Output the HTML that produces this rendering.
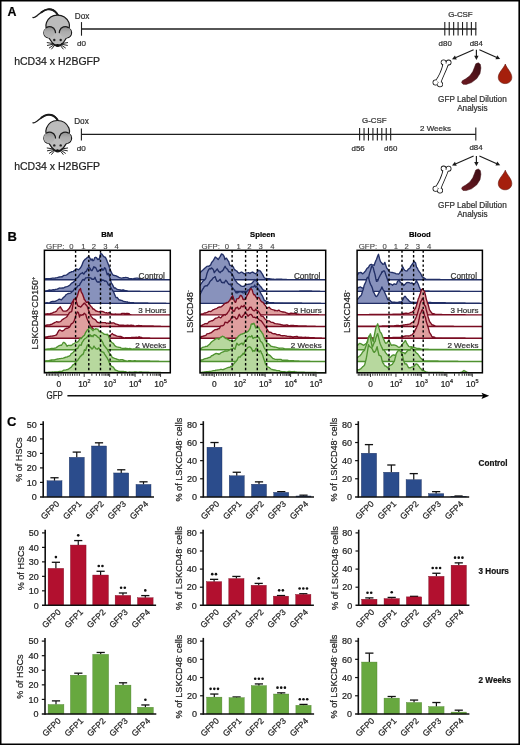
<!DOCTYPE html><html><head><meta charset="utf-8"><style>html,body{margin:0;padding:0;background:#fff;width:520px;height:745px;overflow:hidden}svg{display:block;will-change:transform}text{font-family:"Liberation Sans", sans-serif;stroke:#222;stroke-width:0.22px;paint-order:stroke}</style></head><body><svg width="520" height="745" viewBox="0 0 520 745" font-family='"Liberation Sans", sans-serif'><defs><linearGradient id="earg" x1="0" y1="0" x2="0" y2="1"><stop offset="0" stop-color="#8f8f8f"/><stop offset="0.45" stop-color="#acacac"/><stop offset="1" stop-color="#b8b8b8"/></linearGradient><linearGradient id="spg" gradientUnits="objectBoundingBox" x1="1" y1="0" x2="0" y2="1"><stop offset="0" stop-color="#3c0d14"/><stop offset="1" stop-color="#6e1a22"/></linearGradient></defs><rect x="0" y="0" width="520" height="745" fill="#fff"/><text x="7.4" y="16.1" font-size="12.4" text-anchor="start" font-weight="bold" fill="#000" >A</text>
<g transform="translate(0,0)" stroke-linejoin="round"><path d="M33.0,17.4 C33.6,17.9 35,17.2 37.2,15.6 C40.5,13 43.6,10 47.5,9.4 C51.5,8.8 54.5,10.5 56.6,13.2 L58.2,15.6" fill="none" stroke="#1a1a1a" stroke-width="1.3" stroke-linecap="round"/><path d="M41.5,12.2 C44,10.3 45.6,9.6 47.5,9.4 C51.5,8.8 54.5,10.5 56.6,13.2 L58.2,15.6" fill="none" stroke="#1a1a1a" stroke-width="1.9" stroke-linecap="round"/><path d="M57.4,15.1 C62.5,15.1 66.8,17.8 68.9,22.6 C69.8,24.8 69.6,27 69.2,28.5 C70.5,29.2 71.6,30.8 71.6,32.8 C71.5,35.5 69.3,37.6 66.4,38 C64.9,40.8 62.5,43.8 60.3,45.4 C58.8,46.6 56.6,46.6 55.2,45.4 C52.9,43.8 50.6,40.8 49.0,38 C46.1,37.6 43.9,35.5 43.8,32.8 C43.8,30.8 44.9,29.2 46.2,28.5 C45.8,27 45.6,24.8 46.5,22.6 C48.4,17.8 52.4,15.1 57.4,15.1 Z" fill="#bcbcbc" stroke="#1a1a1a" stroke-width="1.2"/><path d="M46.6,27.2 C49.5,26.2 53.8,27.0 55.3,31.5 C55.2,34.5 52.5,37.6 49.0,38 C46.1,37.6 43.9,35.5 43.8,32.8 C43.8,30.2 45,28.2 46.6,27.2 Z" fill="url(#earg)"/><path d="M68.2,27.2 C65.3,26.2 61,27.0 59.5,31.5 C59.6,34.5 62.3,37.6 65.8,38 C68.7,37.6 70.9,35.5 71.0,32.8 C71.0,30.2 69.8,28.2 68.2,27.2 Z" fill="url(#earg)"/><path d="M46.4,27.6 C49.2,25.8 53.8,26.6 55.2,30.8 L55.5,32.6" fill="none" stroke="#1a1a1a" stroke-width="1.25" stroke-linecap="round"/><path d="M68.4,27.6 C65.6,25.8 61.0,26.6 59.6,30.8 L59.3,32.6" fill="none" stroke="#1a1a1a" stroke-width="1.25" stroke-linecap="round"/><circle cx="54.3" cy="40.0" r="1.2" fill="#222"/><circle cx="60.7" cy="40.0" r="1.2" fill="#222"/><path d="M53.6,43.6 C55.5,44.8 59.5,44.8 61.3,43.6 L60.2,45.6 C59,46.7 56,46.7 54.8,45.6 Z" fill="#151515"/><circle cx="57.45" cy="44.9" r="1.0" fill="#111"/><line x1="53.2" y1="43.6" x2="47.2" y2="42.6" stroke="#1a1a1a" stroke-width="0.95" stroke-linecap="round"/><line x1="53.4" y1="44.2" x2="47.4" y2="45.4" stroke="#1a1a1a" stroke-width="0.95" stroke-linecap="round"/><line x1="53.9" y1="44.8" x2="49.4" y2="47.9" stroke="#1a1a1a" stroke-width="0.95" stroke-linecap="round"/><line x1="54.6" y1="45.3" x2="51.6" y2="49.0" stroke="#1a1a1a" stroke-width="0.95" stroke-linecap="round"/><line x1="61.6" y1="43.6" x2="67.6" y2="42.6" stroke="#1a1a1a" stroke-width="0.95" stroke-linecap="round"/><line x1="61.4" y1="44.2" x2="67.4" y2="45.4" stroke="#1a1a1a" stroke-width="0.95" stroke-linecap="round"/><line x1="60.9" y1="44.8" x2="65.4" y2="47.9" stroke="#1a1a1a" stroke-width="0.95" stroke-linecap="round"/><line x1="60.2" y1="45.3" x2="63.2" y2="49.0" stroke="#1a1a1a" stroke-width="0.95" stroke-linecap="round"/></g>
<text x="14.2" y="64.8" font-size="10.5" text-anchor="start" font-weight="normal" fill="#222" >hCD34 x H2BGFP</text>
<text x="74.8" y="18.7" font-size="8.2" text-anchor="start" font-weight="normal" fill="#333" >Dox</text>
<text x="81.4" y="45.9" font-size="8.1" text-anchor="middle" font-weight="normal" fill="#333" >d0</text>
<line x1="81.5" y1="22.1" x2="81.5" y2="35.7" stroke="#1e1e1e" stroke-width="1.1" />
<line x1="81.5" y1="29.0" x2="476.3" y2="29.0" stroke="#1e1e1e" stroke-width="1.4" />
<line x1="444.8" y1="22.0" x2="444.8" y2="35.4" stroke="#1e1e1e" stroke-width="1.1" />
<line x1="449.23" y1="22.0" x2="449.23" y2="35.4" stroke="#1e1e1e" stroke-width="1.1" />
<line x1="453.66" y1="22.0" x2="453.66" y2="35.4" stroke="#1e1e1e" stroke-width="1.1" />
<line x1="458.09000000000003" y1="22.0" x2="458.09000000000003" y2="35.4" stroke="#1e1e1e" stroke-width="1.1" />
<line x1="462.52" y1="22.0" x2="462.52" y2="35.4" stroke="#1e1e1e" stroke-width="1.1" />
<line x1="466.95" y1="22.0" x2="466.95" y2="35.4" stroke="#1e1e1e" stroke-width="1.1" />
<line x1="471.38" y1="22.0" x2="471.38" y2="35.4" stroke="#1e1e1e" stroke-width="1.1" />
<line x1="475.81" y1="22.0" x2="475.81" y2="35.4" stroke="#1e1e1e" stroke-width="1.1" />
<text x="460.4" y="16.7" font-size="7.9" text-anchor="middle" font-weight="normal" fill="#333" >G-CSF</text>
<text x="445.2" y="45.6" font-size="7.9" text-anchor="middle" font-weight="normal" fill="#333" >d80</text>
<text x="476.3" y="45.6" font-size="7.9" text-anchor="middle" font-weight="normal" fill="#333" >d84</text>
<line x1="473.6" y1="49.8" x2="455.38689678677866" y2="57.81039261692605" stroke="#1a1a1a" stroke-width="1.15" />
<path d="M452.00,59.30 L454.96,55.60 L456.73,59.62 Z" fill="#1a1a1a"/>
<line x1="476.4" y1="49.8" x2="476.4" y2="56.3" stroke="#1a1a1a" stroke-width="1.15" />
<path d="M476.40,60.00 L474.20,55.80 L478.60,55.80 Z" fill="#1a1a1a"/>
<line x1="479.4" y1="49.8" x2="496.8162192502943" y2="57.5033277453225" stroke="#1a1a1a" stroke-width="1.15" />
<path d="M500.20,59.00 L495.47,59.31 L497.25,55.29 Z" fill="#1a1a1a"/>
<g fill="#111" stroke="#111" stroke-width="1.6" stroke-linejoin="round"><path d="M443.6,63.0 C442.8,67.5 441.6,70.5 440.2,73.5 C438.8,76.5 437.4,78.6 436.2,80.6 L440.2,83.4 C441.2,80.5 442.4,77.5 443.8,74.5 C445.3,71.2 446.8,67.5 448.3,63.6 Z"/><circle cx="443.6" cy="62.3" r="2.1"/><circle cx="448.6" cy="62.5" r="2.1"/><circle cx="435.6" cy="82.5" r="2.25"/><circle cx="440.0" cy="84.3" r="2.25"/></g><g fill="#fff"><path d="M443.6,63.0 C442.8,67.5 441.6,70.5 440.2,73.5 C438.8,76.5 437.4,78.6 436.2,80.6 L440.2,83.4 C441.2,80.5 442.4,77.5 443.8,74.5 C445.3,71.2 446.8,67.5 448.3,63.6 Z"/><circle cx="443.6" cy="62.3" r="2.1"/><circle cx="448.6" cy="62.5" r="2.1"/><circle cx="435.6" cy="82.5" r="2.25"/><circle cx="440.0" cy="84.3" r="2.25"/></g>
<path d="M478.3,62.8 L480.3,64.3 L480.9,68 L480.0,73.5 L476.8,78.6 L471.5,82.6 L466.2,84.4 L463.0,84.2 L461.6,82.6 L462.3,80.8 L465.8,78.8 L469.8,75.8 L472.8,71.6 L474.6,67.0 L475.8,63.8 Z" fill="url(#spg)" stroke="#3a0c12" stroke-width="0.5" stroke-linejoin="round"/>
<path d="M505.3,64.0 C506.8,68.5 511.8,72.5 511.8,77.3 C511.8,81 509,83.6 505.1,83.6 C501.2,83.6 498.3,81 498.3,77.3 C498.3,72.5 503.6,68.5 505.3,64.0 Z" fill="#a51f0c" stroke="#5e1208" stroke-width="0.6"/>
<text x="472.4" y="102" font-size="8.2" text-anchor="middle" font-weight="normal" fill="#333" >GFP Label Dilution</text>
<text x="472.4" y="111" font-size="8.2" text-anchor="middle" font-weight="normal" fill="#333" >Analysis</text>
<g transform="translate(0,105.4)" stroke-linejoin="round"><path d="M33.0,17.4 C33.6,17.9 35,17.2 37.2,15.6 C40.5,13 43.6,10 47.5,9.4 C51.5,8.8 54.5,10.5 56.6,13.2 L58.2,15.6" fill="none" stroke="#1a1a1a" stroke-width="1.3" stroke-linecap="round"/><path d="M41.5,12.2 C44,10.3 45.6,9.6 47.5,9.4 C51.5,8.8 54.5,10.5 56.6,13.2 L58.2,15.6" fill="none" stroke="#1a1a1a" stroke-width="1.9" stroke-linecap="round"/><path d="M57.4,15.1 C62.5,15.1 66.8,17.8 68.9,22.6 C69.8,24.8 69.6,27 69.2,28.5 C70.5,29.2 71.6,30.8 71.6,32.8 C71.5,35.5 69.3,37.6 66.4,38 C64.9,40.8 62.5,43.8 60.3,45.4 C58.8,46.6 56.6,46.6 55.2,45.4 C52.9,43.8 50.6,40.8 49.0,38 C46.1,37.6 43.9,35.5 43.8,32.8 C43.8,30.8 44.9,29.2 46.2,28.5 C45.8,27 45.6,24.8 46.5,22.6 C48.4,17.8 52.4,15.1 57.4,15.1 Z" fill="#bcbcbc" stroke="#1a1a1a" stroke-width="1.2"/><path d="M46.6,27.2 C49.5,26.2 53.8,27.0 55.3,31.5 C55.2,34.5 52.5,37.6 49.0,38 C46.1,37.6 43.9,35.5 43.8,32.8 C43.8,30.2 45,28.2 46.6,27.2 Z" fill="url(#earg)"/><path d="M68.2,27.2 C65.3,26.2 61,27.0 59.5,31.5 C59.6,34.5 62.3,37.6 65.8,38 C68.7,37.6 70.9,35.5 71.0,32.8 C71.0,30.2 69.8,28.2 68.2,27.2 Z" fill="url(#earg)"/><path d="M46.4,27.6 C49.2,25.8 53.8,26.6 55.2,30.8 L55.5,32.6" fill="none" stroke="#1a1a1a" stroke-width="1.25" stroke-linecap="round"/><path d="M68.4,27.6 C65.6,25.8 61.0,26.6 59.6,30.8 L59.3,32.6" fill="none" stroke="#1a1a1a" stroke-width="1.25" stroke-linecap="round"/><circle cx="54.3" cy="40.0" r="1.2" fill="#222"/><circle cx="60.7" cy="40.0" r="1.2" fill="#222"/><path d="M53.6,43.6 C55.5,44.8 59.5,44.8 61.3,43.6 L60.2,45.6 C59,46.7 56,46.7 54.8,45.6 Z" fill="#151515"/><circle cx="57.45" cy="44.9" r="1.0" fill="#111"/><line x1="53.2" y1="43.6" x2="47.2" y2="42.6" stroke="#1a1a1a" stroke-width="0.95" stroke-linecap="round"/><line x1="53.4" y1="44.2" x2="47.4" y2="45.4" stroke="#1a1a1a" stroke-width="0.95" stroke-linecap="round"/><line x1="53.9" y1="44.8" x2="49.4" y2="47.9" stroke="#1a1a1a" stroke-width="0.95" stroke-linecap="round"/><line x1="54.6" y1="45.3" x2="51.6" y2="49.0" stroke="#1a1a1a" stroke-width="0.95" stroke-linecap="round"/><line x1="61.6" y1="43.6" x2="67.6" y2="42.6" stroke="#1a1a1a" stroke-width="0.95" stroke-linecap="round"/><line x1="61.4" y1="44.2" x2="67.4" y2="45.4" stroke="#1a1a1a" stroke-width="0.95" stroke-linecap="round"/><line x1="60.9" y1="44.8" x2="65.4" y2="47.9" stroke="#1a1a1a" stroke-width="0.95" stroke-linecap="round"/><line x1="60.2" y1="45.3" x2="63.2" y2="49.0" stroke="#1a1a1a" stroke-width="0.95" stroke-linecap="round"/></g>
<text x="14.2" y="170.4" font-size="10.5" text-anchor="start" font-weight="normal" fill="#222" >hCD34 x H2BGFP</text>
<text x="74.2" y="124.2" font-size="8.2" text-anchor="start" font-weight="normal" fill="#333" >Dox</text>
<text x="81.2" y="151.1" font-size="8.1" text-anchor="middle" font-weight="normal" fill="#333" >d0</text>
<line x1="81.4" y1="128.6" x2="81.4" y2="140.6" stroke="#1e1e1e" stroke-width="1.1" />
<line x1="81.4" y1="134.4" x2="475.8" y2="134.4" stroke="#1e1e1e" stroke-width="1.4" />
<line x1="359.6" y1="127.9" x2="359.6" y2="140.6" stroke="#1e1e1e" stroke-width="1.1" />
<line x1="364.04" y1="127.9" x2="364.04" y2="140.6" stroke="#1e1e1e" stroke-width="1.1" />
<line x1="368.48" y1="127.9" x2="368.48" y2="140.6" stroke="#1e1e1e" stroke-width="1.1" />
<line x1="372.92" y1="127.9" x2="372.92" y2="140.6" stroke="#1e1e1e" stroke-width="1.1" />
<line x1="377.36" y1="127.9" x2="377.36" y2="140.6" stroke="#1e1e1e" stroke-width="1.1" />
<line x1="381.8" y1="127.9" x2="381.8" y2="140.6" stroke="#1e1e1e" stroke-width="1.1" />
<line x1="386.24" y1="127.9" x2="386.24" y2="140.6" stroke="#1e1e1e" stroke-width="1.1" />
<line x1="390.68" y1="127.9" x2="390.68" y2="140.6" stroke="#1e1e1e" stroke-width="1.1" />
<text x="374.3" y="122.6" font-size="7.9" text-anchor="middle" font-weight="normal" fill="#333" >G-CSF</text>
<text x="358.1" y="150.6" font-size="7.9" text-anchor="middle" font-weight="normal" fill="#333" >d56</text>
<text x="390.7" y="150.6" font-size="7.9" text-anchor="middle" font-weight="normal" fill="#333" >d60</text>
<text x="435.5" y="131.0" font-size="8.0" text-anchor="middle" font-weight="normal" fill="#333" >2 Weeks</text>
<line x1="475.8" y1="127.6" x2="475.8" y2="140.5" stroke="#1e1e1e" stroke-width="1.1" />
<text x="476.0" y="150.4" font-size="7.9" text-anchor="middle" font-weight="normal" fill="#333" >d84</text>
<line x1="473.6" y1="156.0" x2="455.38689678677866" y2="164.01039261692605" stroke="#1a1a1a" stroke-width="1.15" />
<path d="M452.00,165.50 L454.96,161.80 L456.73,165.82 Z" fill="#1a1a1a"/>
<line x1="476.4" y1="156.0" x2="476.4" y2="162.5" stroke="#1a1a1a" stroke-width="1.15" />
<path d="M476.40,166.20 L474.20,162.00 L478.60,162.00 Z" fill="#1a1a1a"/>
<line x1="479.4" y1="156.0" x2="496.8162192502943" y2="163.7033277453225" stroke="#1a1a1a" stroke-width="1.15" />
<path d="M500.20,165.20 L495.47,165.51 L497.25,161.49 Z" fill="#1a1a1a"/>
<g fill="#111" stroke="#111" stroke-width="1.6" stroke-linejoin="round"><path d="M443.6,169.2 C442.8,173.7 441.6,176.7 440.2,179.7 C438.8,182.7 437.4,184.8 436.2,186.8 L440.2,189.60000000000002 C441.2,186.7 442.4,183.7 443.8,180.7 C445.3,177.4 446.8,173.7 448.3,169.8 Z"/><circle cx="443.6" cy="168.5" r="2.1"/><circle cx="448.6" cy="168.7" r="2.1"/><circle cx="435.6" cy="188.7" r="2.25"/><circle cx="440.0" cy="190.5" r="2.25"/></g><g fill="#fff"><path d="M443.6,169.2 C442.8,173.7 441.6,176.7 440.2,179.7 C438.8,182.7 437.4,184.8 436.2,186.8 L440.2,189.60000000000002 C441.2,186.7 442.4,183.7 443.8,180.7 C445.3,177.4 446.8,173.7 448.3,169.8 Z"/><circle cx="443.6" cy="168.5" r="2.1"/><circle cx="448.6" cy="168.7" r="2.1"/><circle cx="435.6" cy="188.7" r="2.25"/><circle cx="440.0" cy="190.5" r="2.25"/></g>
<path d="M478.3,169.0 L480.3,170.5 L480.9,174.2 L480.0,179.7 L476.8,184.8 L471.5,188.8 L466.2,190.60000000000002 L463.0,190.4 L461.6,188.8 L462.3,187.0 L465.8,185.0 L469.8,182.0 L472.8,177.8 L474.6,173.2 L475.8,170.0 Z" fill="url(#spg)" stroke="#3a0c12" stroke-width="0.5" stroke-linejoin="round"/>
<path d="M505.3,170.2 C506.8,174.7 511.8,178.7 511.8,183.5 C511.8,187.2 509,189.8 505.1,189.8 C501.2,189.8 498.3,187.2 498.3,183.5 C498.3,178.7 503.6,174.7 505.3,170.2 Z" fill="#a51f0c" stroke="#5e1208" stroke-width="0.6"/>
<text x="472.4" y="208.2" font-size="8.2" text-anchor="middle" font-weight="normal" fill="#333" >GFP Label Dilution</text>
<text x="472.4" y="217.2" font-size="8.2" text-anchor="middle" font-weight="normal" fill="#333" >Analysis</text>
<text x="7.4" y="240.5" font-size="13" text-anchor="start" font-weight="bold" fill="#000" >B</text>
<clipPath id="clip44"><rect x="44.4" y="250.3" width="125.9" height="122.5"/></clipPath>
<g clip-path="url(#clip44)"><path d="M43.4,279.7 L43.4,279.1 L44.3,279.0 L45.2,278.9 L46.1,278.7 L47.0,278.6 L47.9,278.6 L48.8,278.7 L49.7,278.6 L50.6,278.5 L51.5,278.3 L52.4,278.2 L53.3,278.1 L54.2,278.1 L54.5,278.1 L55.1,278.0 L56.0,277.8 L56.9,277.7 L57.8,277.5 L58.7,277.2 L59.6,277.0 L60.5,276.8 L61.4,276.7 L62.2,276.8 L62.3,276.7 L63.2,275.8 L64.1,275.4 L65.0,275.3 L65.9,275.1 L66.8,274.8 L67.7,274.1 L68.0,273.9 L68.6,273.5 L69.5,272.6 L70.4,272.3 L71.3,272.0 L71.8,271.6 L72.2,271.6 L73.1,271.7 L74.0,270.7 L74.7,270.4 L74.9,270.2 L75.8,269.0 L76.7,269.0 L77.6,269.3 L78.5,269.7 L78.6,269.7 L79.4,269.0 L80.3,268.0 L81.2,266.7 L81.5,266.2 L82.1,264.7 L83.0,262.3 L83.4,261.4 L83.9,260.7 L84.8,259.6 L85.7,258.9 L86.3,258.5 L86.6,258.2 L87.5,257.1 L88.4,257.2 L89.2,256.9 L89.3,257.0 L90.2,258.7 L91.1,260.2 L92.0,258.9 L92.9,260.8 L93.8,260.2 L94.7,257.7 L95.0,257.6 L95.6,257.3 L96.5,257.7 L97.4,259.1 L97.8,259.5 L98.3,259.0 L99.2,259.6 L100.1,255.5 L100.7,253.1 L101.0,253.5 L101.9,254.1 L102.8,255.3 L103.6,256.6 L103.7,256.7 L104.6,256.9 L105.5,257.6 L106.4,259.4 L106.5,259.5 L107.3,261.7 L108.2,264.0 L109.1,266.6 L109.3,267.2 L110.0,268.8 L110.9,271.4 L111.8,273.2 L112.2,273.9 L112.7,274.5 L113.6,275.4 L114.5,275.5 L115.4,275.6 L116.0,275.8 L116.3,276.0 L117.2,276.3 L118.1,276.8 L119.0,277.3 L119.9,277.7 L120.0,277.7 L120.8,277.9 L121.7,278.1 L122.6,277.9 L123.5,277.7 L124.4,277.7 L125.3,277.5 L125.7,277.4 L126.2,277.5 L127.1,277.6 L128.0,277.9 L128.9,278.4 L129.8,278.7 L130.7,278.7 L131.5,278.7 L131.6,278.7 L132.5,278.8 L133.4,278.7 L134.3,278.5 L135.2,278.3 L136.1,278.1 L137.0,278.1 L137.2,278.1 L137.9,278.1 L138.8,278.3 L139.7,278.6 L140.6,279.0 L141.5,279.0 L142.4,279.2 L143.0,279.3 L143.3,279.3 L144.2,279.3 L145.1,279.3 L146.0,279.3 L146.9,279.4 L147.8,279.4 L148.7,279.4 L149.6,279.4 L150.5,279.4 L151.4,279.4 L152.3,279.4 L153.2,279.4 L154.1,279.5 L155.0,279.5 L155.9,279.5 L156.8,279.5 L157.7,279.5 L158.6,279.5 L159.5,279.5 L160.4,279.5 L161.3,279.6 L162.2,279.6 L163.1,279.6 L164.0,279.6 L164.9,279.6 L165.8,279.6 L166.7,279.6 L167.6,279.7 L168.5,279.7 L169.4,279.7 L170.3,279.7 L171.0,279.7 L171.2,279.7 L171.3,279.7 Z" fill="#8892bc" stroke="#222f66" stroke-width="1.35" stroke-linejoin="round"/><path d="M43.4,291.4 L43.4,291.2 L44.3,291.0 L45.2,290.9 L46.1,290.8 L47.0,290.7 L47.9,290.6 L48.8,290.1 L49.7,290.0 L50.6,290.1 L51.5,290.1 L52.4,289.8 L53.3,289.6 L54.2,289.8 L54.5,289.8 L55.1,289.5 L56.0,289.3 L56.9,289.2 L57.8,289.0 L58.7,288.4 L59.6,288.0 L60.5,288.1 L61.4,288.2 L62.2,287.9 L62.3,287.9 L63.2,288.0 L64.1,287.7 L65.0,287.2 L65.9,286.8 L66.8,286.6 L67.7,286.3 L68.6,285.9 L69.5,285.3 L70.0,285.0 L70.4,284.6 L71.3,283.3 L72.2,282.8 L73.1,282.4 L74.0,281.5 L74.7,281.2 L74.9,280.7 L75.8,278.4 L76.7,278.1 L77.6,277.7 L78.5,276.5 L78.6,276.4 L79.4,274.9 L80.3,274.0 L81.2,273.4 L82.1,273.0 L82.4,272.5 L83.0,273.4 L83.9,274.1 L84.8,272.5 L85.7,271.4 L86.3,271.5 L86.6,270.9 L87.5,268.9 L88.4,267.8 L89.2,267.7 L89.3,267.6 L90.2,268.4 L91.1,270.6 L92.0,270.6 L92.9,268.9 L93.8,266.7 L94.7,267.4 L95.0,267.7 L95.6,267.5 L96.5,269.3 L97.4,271.4 L97.8,271.5 L98.3,271.4 L99.2,270.3 L100.1,270.0 L100.7,270.6 L101.0,269.8 L101.9,268.5 L102.8,270.2 L103.7,269.8 L104.5,267.7 L104.6,267.9 L105.5,268.4 L106.4,271.7 L107.3,274.7 L108.2,273.5 L108.4,273.5 L109.1,275.8 L110.0,277.9 L110.9,281.3 L111.3,283.1 L111.8,283.5 L112.7,285.1 L113.6,286.9 L114.2,287.9 L114.5,288.0 L115.4,287.9 L116.3,288.7 L117.2,289.4 L118.1,289.6 L119.0,289.7 L119.9,289.8 L120.0,289.8 L120.8,290.0 L121.7,290.1 L122.6,290.0 L123.5,290.0 L124.4,290.3 L125.3,290.6 L126.2,290.7 L127.1,290.8 L128.0,291.0 L128.9,291.1 L129.5,291.2 L129.8,291.2 L130.7,291.2 L131.6,291.2 L132.5,291.2 L133.4,291.2 L134.3,291.2 L135.2,291.2 L136.1,291.2 L137.0,291.2 L137.9,291.2 L138.8,291.2 L139.7,291.2 L140.6,291.3 L141.5,291.3 L142.4,291.3 L143.3,291.3 L144.2,291.3 L145.1,291.3 L146.0,291.3 L146.9,291.3 L147.8,291.3 L148.7,291.3 L149.6,291.3 L150.5,291.3 L151.4,291.3 L152.3,291.3 L153.2,291.3 L154.1,291.3 L155.0,291.3 L155.9,291.3 L156.8,291.3 L157.7,291.3 L158.6,291.3 L159.5,291.3 L160.4,291.3 L161.3,291.4 L162.2,291.4 L163.1,291.4 L164.0,291.4 L164.9,291.4 L165.8,291.4 L166.7,291.4 L167.6,291.4 L168.5,291.4 L169.4,291.4 L170.3,291.4 L171.0,291.4 L171.2,291.4 L171.3,291.4 Z" fill="#8892bc" stroke="#222f66" stroke-width="1.35" stroke-linejoin="round"/><path d="M43.4,303.3 L43.4,303.2 L44.3,303.1 L45.2,302.9 L46.1,302.8 L47.0,302.6 L47.9,302.9 L48.8,302.8 L49.7,302.6 L50.6,302.1 L51.5,301.6 L52.4,301.5 L53.3,301.5 L54.2,301.5 L54.5,301.4 L55.1,301.3 L56.0,301.0 L56.9,300.5 L57.8,300.0 L58.7,299.4 L59.6,299.1 L60.5,299.5 L61.4,299.8 L62.2,298.9 L62.3,298.8 L63.2,297.7 L64.1,296.9 L65.0,296.2 L65.9,294.9 L66.0,294.7 L66.8,294.3 L67.7,293.7 L68.6,293.5 L69.5,293.3 L70.4,293.2 L71.3,292.5 L71.8,291.8 L72.2,291.7 L73.1,290.9 L74.0,289.6 L74.9,288.3 L75.8,287.7 L76.6,287.9 L76.7,287.7 L77.6,286.2 L78.5,285.7 L79.4,285.4 L80.3,283.4 L80.5,283.1 L81.2,282.1 L82.1,280.5 L83.0,279.4 L83.9,279.9 L84.3,280.2 L84.8,279.2 L85.7,277.9 L86.6,277.8 L87.5,277.7 L88.2,277.3 L88.4,277.4 L89.3,277.6 L90.2,277.8 L91.1,278.2 L92.0,279.3 L92.9,279.1 L93.8,279.3 L94.7,277.9 L95.0,277.3 L95.6,279.0 L96.5,281.0 L97.4,282.1 L98.3,281.9 L98.8,282.2 L99.2,281.8 L100.1,282.0 L101.0,281.6 L101.7,279.3 L101.9,279.8 L102.8,280.4 L103.7,280.0 L104.5,281.2 L104.6,281.2 L105.5,280.9 L106.4,281.4 L107.3,282.4 L108.2,284.5 L108.4,285.0 L109.1,284.9 L110.0,285.9 L110.9,287.7 L111.8,289.2 L112.2,289.8 L112.7,290.6 L113.6,292.0 L114.5,294.2 L115.4,296.3 L116.0,297.5 L116.3,297.6 L117.2,297.5 L118.1,298.6 L119.0,299.8 L119.9,300.0 L120.0,300.0 L120.8,300.3 L121.7,300.4 L122.6,300.9 L123.5,301.3 L124.4,301.5 L125.3,301.6 L126.2,301.8 L127.1,301.9 L127.6,302.0 L128.0,302.1 L128.9,302.3 L129.8,302.5 L130.7,302.6 L131.6,302.6 L132.5,302.6 L133.4,302.7 L134.3,302.8 L135.2,302.9 L135.3,302.9 L136.1,302.9 L137.0,302.9 L137.9,302.9 L138.8,302.9 L139.7,302.9 L140.6,303.0 L141.5,303.0 L142.4,303.0 L143.3,303.0 L144.2,303.0 L145.1,303.0 L146.0,303.0 L146.9,303.0 L147.8,303.0 L148.7,303.1 L149.6,303.1 L150.5,303.1 L151.4,303.1 L152.3,303.1 L153.2,303.1 L154.1,303.1 L155.0,303.1 L155.9,303.1 L156.8,303.1 L157.7,303.2 L158.6,303.2 L159.5,303.2 L160.4,303.2 L161.3,303.2 L162.2,303.2 L163.1,303.2 L164.0,303.2 L164.9,303.2 L165.8,303.2 L166.7,303.3 L167.6,303.3 L168.5,303.3 L169.4,303.3 L170.3,303.3 L171.0,303.3 L171.2,303.3 L171.3,303.3 Z" fill="#8892bc" stroke="#222f66" stroke-width="1.35" stroke-linejoin="round"/><path d="M43.4,314.9 L43.4,314.4 L44.3,314.3 L45.2,314.2 L46.1,313.9 L47.0,313.8 L47.9,313.7 L48.8,313.8 L49.7,313.8 L50.6,313.4 L50.7,313.4 L51.5,313.3 L52.4,313.0 L53.3,312.5 L54.2,312.2 L55.1,311.9 L56.0,311.3 L56.5,311.1 L56.9,310.5 L57.8,309.0 L58.7,308.2 L59.6,307.5 L60.3,306.8 L60.5,307.1 L61.4,308.6 L62.3,310.0 L63.2,311.1 L64.1,311.2 L65.0,311.1 L65.9,311.0 L66.8,310.8 L67.0,310.7 L67.7,310.0 L68.6,309.1 L69.5,308.0 L70.4,306.1 L70.9,305.3 L71.3,304.4 L72.2,302.3 L73.1,300.8 L73.8,299.5 L74.0,299.5 L74.9,300.5 L75.8,299.9 L76.7,297.6 L77.6,295.2 L78.5,292.1 L78.6,291.8 L79.4,289.8 L80.3,288.9 L80.5,288.4 L81.2,291.8 L82.1,293.3 L82.4,293.8 L83.0,295.5 L83.9,298.0 L84.3,299.5 L84.8,299.9 L85.7,301.3 L86.3,302.4 L86.6,302.3 L87.5,302.4 L88.2,301.5 L88.4,302.0 L89.3,304.0 L90.1,305.3 L90.2,305.4 L91.1,306.5 L92.0,307.3 L92.9,308.9 L93.0,309.1 L93.8,308.9 L94.7,309.8 L95.6,310.8 L96.5,311.0 L96.8,311.1 L97.4,311.3 L98.3,311.6 L99.2,311.8 L100.1,311.3 L100.7,311.1 L101.0,311.2 L101.9,311.3 L102.8,311.6 L103.7,311.9 L104.6,312.5 L105.5,312.9 L106.4,312.6 L106.5,312.6 L107.3,313.1 L108.2,313.0 L109.1,312.7 L110.0,313.0 L110.9,313.5 L111.8,313.9 L112.2,314.0 L112.7,314.1 L113.6,314.2 L114.5,314.1 L115.4,314.0 L116.3,314.1 L117.2,314.1 L118.1,314.2 L119.0,314.2 L119.9,314.2 L120.0,314.2 L120.8,314.1 L121.7,313.5 L122.6,313.4 L123.5,313.4 L124.4,313.5 L125.3,313.7 L126.2,313.5 L127.1,313.4 L127.6,313.5 L128.0,313.5 L128.9,313.6 L129.8,314.3 L130.7,314.6 L131.5,314.9 L131.6,314.9 L132.5,314.9 L133.4,314.9 L134.3,314.9 L135.2,314.9 L136.1,314.9 L137.0,314.9 L137.9,314.9 L138.8,314.9 L139.7,314.9 L140.6,314.9 L141.5,314.9 L142.4,314.9 L143.3,314.9 L144.2,314.9 L145.1,314.9 L146.0,314.9 L146.9,314.9 L147.8,314.9 L148.7,314.9 L149.6,314.9 L150.5,314.9 L151.4,314.9 L152.3,314.9 L153.2,314.9 L154.1,314.9 L155.0,314.9 L155.9,314.9 L156.8,314.9 L157.7,314.9 L158.6,314.9 L159.5,314.9 L160.4,314.9 L161.3,314.9 L162.2,314.9 L163.1,314.9 L164.0,314.9 L164.9,314.9 L165.8,314.9 L166.7,314.9 L167.6,314.9 L168.5,314.9 L169.4,314.9 L170.3,314.9 L171.0,314.9 L171.2,314.9 L171.3,314.9 Z" fill="#df9f9f" stroke="#7a0c22" stroke-width="1.35" stroke-linejoin="round"/><path d="M43.4,326.5 L43.4,326.0 L44.3,325.8 L45.2,325.5 L46.1,325.3 L47.0,325.0 L47.9,324.9 L48.8,324.8 L49.7,324.8 L50.6,324.5 L50.7,324.5 L51.5,324.3 L52.4,323.9 L53.3,323.3 L54.2,322.8 L55.1,322.4 L56.0,322.0 L56.5,321.6 L56.9,321.7 L57.8,322.1 L58.7,322.0 L59.6,321.9 L60.5,321.5 L61.4,320.7 L62.2,319.7 L62.3,319.7 L63.2,319.1 L64.1,318.5 L65.0,318.0 L65.9,317.5 L66.8,316.8 L67.7,315.3 L68.0,314.9 L68.6,314.2 L69.5,312.4 L70.4,312.1 L71.3,311.7 L71.8,311.1 L72.2,309.0 L73.1,304.1 L73.8,299.5 L74.0,299.5 L74.9,298.8 L75.7,298.6 L75.8,298.9 L76.7,302.8 L77.6,305.3 L78.5,306.4 L79.4,306.3 L80.3,307.0 L80.5,307.1 L81.2,306.7 L82.1,305.5 L82.4,305.0 L83.0,304.5 L83.9,303.5 L84.3,303.1 L84.8,303.6 L85.7,304.5 L86.6,305.7 L87.2,306.1 L87.5,307.2 L88.4,309.9 L89.3,312.1 L90.1,314.8 L90.2,314.9 L91.1,316.4 L92.0,317.4 L92.9,318.5 L93.0,318.7 L93.8,318.9 L94.7,319.3 L95.6,320.0 L96.5,321.2 L97.4,322.3 L98.3,322.5 L98.8,322.6 L99.2,322.8 L100.1,322.8 L101.0,322.6 L101.9,322.5 L102.8,322.6 L103.7,322.7 L104.6,322.6 L105.5,322.6 L106.4,323.4 L106.5,323.5 L107.3,323.1 L108.2,323.2 L109.1,323.5 L110.0,323.3 L110.9,322.8 L111.8,323.0 L112.0,323.1 L112.7,322.8 L113.6,322.8 L114.5,323.4 L115.4,324.0 L116.3,324.2 L117.2,324.4 L118.1,324.7 L119.0,325.1 L119.9,325.2 L120.0,325.2 L120.8,325.2 L121.7,325.1 L122.6,325.2 L123.5,325.2 L124.4,325.3 L125.3,325.5 L126.2,325.3 L127.1,325.2 L128.0,325.2 L128.9,325.3 L129.8,325.3 L130.7,325.2 L131.6,325.1 L132.5,325.3 L133.4,325.4 L134.3,325.8 L135.2,326.1 L136.1,325.9 L137.0,325.7 L137.9,325.6 L138.8,325.5 L139.7,325.7 L140.6,325.7 L141.5,325.7 L142.4,325.8 L143.3,325.8 L144.2,325.8 L145.1,325.8 L146.0,325.9 L146.9,325.9 L147.8,325.9 L148.7,325.9 L149.6,326.0 L150.5,326.0 L151.4,326.0 L152.3,326.0 L153.2,326.0 L154.1,326.1 L155.0,326.1 L155.9,326.1 L156.8,326.1 L157.7,326.2 L158.6,326.2 L159.5,326.2 L160.4,326.2 L161.3,326.3 L162.2,326.3 L163.1,326.3 L164.0,326.3 L164.9,326.3 L165.8,326.4 L166.7,326.4 L167.6,326.4 L168.5,326.4 L169.4,326.5 L170.3,326.5 L171.0,326.5 L171.2,326.5 L171.3,326.5 Z" fill="#df9f9f" stroke="#7a0c22" stroke-width="1.35" stroke-linejoin="round"/><path d="M43.4,338.2 L43.4,337.7 L44.3,337.5 L45.2,337.2 L46.1,337.0 L47.0,336.8 L47.9,336.6 L48.8,336.4 L49.7,336.3 L50.6,336.2 L50.7,336.2 L51.5,336.1 L52.4,336.0 L53.3,335.8 L54.2,335.6 L55.1,335.4 L56.0,335.0 L56.5,334.9 L56.9,334.2 L57.8,332.3 L58.7,330.8 L59.3,330.1 L59.6,330.0 L60.5,330.2 L61.4,330.8 L62.2,331.0 L62.3,331.0 L63.2,330.7 L64.1,330.0 L65.0,329.0 L65.9,328.5 L66.8,328.2 L67.7,328.2 L68.0,328.1 L68.6,327.6 L69.5,327.2 L70.4,325.6 L71.3,323.9 L72.2,323.4 L73.1,322.7 L73.8,321.4 L74.0,321.0 L74.9,318.8 L75.8,315.4 L76.7,313.3 L77.6,311.9 L78.5,312.9 L79.4,316.7 L79.5,317.1 L80.3,314.8 L81.2,315.2 L81.5,315.2 L82.1,314.7 L83.0,315.0 L83.9,313.7 L84.3,313.3 L84.8,313.8 L85.7,314.3 L86.6,317.6 L87.2,319.1 L87.5,319.8 L88.4,321.7 L89.3,323.2 L90.2,325.0 L91.0,326.8 L91.1,326.9 L92.0,327.5 L92.9,328.4 L93.8,329.4 L94.7,330.4 L94.9,330.6 L95.6,330.8 L96.5,331.2 L97.4,331.8 L98.3,332.6 L98.8,332.9 L99.2,333.0 L100.1,333.3 L101.0,333.4 L101.9,333.8 L102.8,334.3 L103.7,334.8 L104.5,334.9 L104.6,334.9 L105.5,335.4 L106.4,335.4 L107.3,335.4 L108.2,335.5 L109.1,335.7 L109.3,335.8 L110.0,335.3 L110.9,334.7 L111.8,333.9 L112.2,333.5 L112.7,334.0 L113.6,334.8 L114.5,335.0 L115.4,335.3 L116.0,335.8 L116.3,335.9 L117.2,336.2 L118.1,336.3 L119.0,336.4 L119.9,336.5 L120.8,336.5 L121.7,336.8 L122.6,337.5 L123.5,337.7 L123.8,337.8 L124.4,337.8 L125.3,337.7 L126.2,337.7 L127.1,337.7 L128.0,337.6 L128.9,337.6 L129.8,337.6 L130.7,337.6 L131.6,337.5 L132.5,337.5 L133.4,337.5 L134.3,337.4 L135.0,337.4 L135.2,337.3 L136.1,337.2 L137.0,337.3 L137.9,337.3 L138.8,336.9 L139.2,336.8 L139.7,337.0 L140.6,337.3 L141.5,337.5 L142.4,337.8 L143.0,338.0 L143.3,338.0 L144.2,338.0 L145.1,338.0 L146.0,338.0 L146.9,338.0 L147.8,338.0 L148.7,338.0 L149.6,338.0 L150.5,338.1 L151.4,338.1 L152.3,338.1 L153.2,338.1 L154.1,338.1 L155.0,338.1 L155.9,338.1 L156.8,338.1 L157.7,338.1 L158.6,338.1 L159.5,338.1 L160.4,338.1 L161.3,338.1 L162.2,338.1 L163.1,338.1 L164.0,338.1 L164.9,338.2 L165.8,338.2 L166.7,338.2 L167.6,338.2 L168.5,338.2 L169.4,338.2 L170.3,338.2 L171.0,338.2 L171.2,338.2 L171.3,338.2 Z" fill="#df9f9f" stroke="#7a0c22" stroke-width="1.35" stroke-linejoin="round"/><path d="M43.4,349.7 L43.4,349.6 L44.3,349.4 L45.2,349.3 L46.1,349.2 L47.0,349.1 L47.9,349.0 L48.8,349.0 L49.7,348.9 L50.6,348.7 L51.5,348.5 L52.4,348.4 L53.3,348.3 L54.2,348.3 L54.5,348.2 L55.1,348.1 L56.0,347.8 L56.9,347.1 L57.8,346.5 L58.7,345.9 L59.6,345.5 L60.3,345.3 L60.5,345.2 L61.4,345.4 L62.3,344.0 L63.2,342.5 L64.1,342.5 L64.2,342.5 L65.0,343.1 L65.9,344.2 L66.8,345.9 L67.0,346.3 L67.7,345.7 L68.6,345.3 L69.5,345.4 L70.0,345.5 L70.4,345.3 L71.3,345.5 L72.2,344.8 L73.1,343.9 L74.0,343.5 L74.9,343.0 L75.8,342.6 L76.7,342.4 L77.6,341.9 L78.5,341.0 L78.7,341.0 L79.4,339.4 L80.3,338.3 L81.2,338.5 L81.5,338.5 L82.1,337.5 L83.0,336.4 L83.9,335.7 L84.4,335.4 L84.8,334.4 L85.7,332.3 L86.5,331.5 L86.6,331.3 L87.5,329.6 L88.3,329.6 L88.4,329.4 L89.3,327.8 L90.0,327.3 L90.2,327.5 L91.1,328.6 L91.2,328.7 L92.0,329.5 L92.9,330.6 L93.0,330.8 L93.8,329.2 L94.7,329.3 L95.0,329.6 L95.6,328.7 L96.5,328.9 L97.4,329.5 L97.9,329.1 L98.3,330.0 L99.2,331.6 L99.8,331.2 L100.1,331.7 L101.0,331.8 L101.7,332.5 L101.9,332.5 L102.8,333.0 L103.7,333.9 L104.6,334.4 L105.5,334.4 L105.6,334.4 L106.4,334.7 L107.3,334.2 L108.2,335.7 L108.5,335.9 L109.1,337.8 L110.0,340.1 L110.9,341.2 L111.3,342.0 L111.8,342.5 L112.7,342.9 L113.6,343.8 L114.5,345.2 L115.2,346.0 L115.4,346.1 L116.3,346.6 L117.2,346.9 L118.1,347.1 L119.0,347.3 L119.9,347.4 L120.0,347.4 L120.8,347.8 L121.7,348.1 L122.6,348.3 L123.5,348.5 L124.4,348.3 L125.3,348.2 L126.2,348.3 L127.1,348.5 L128.0,348.8 L128.9,348.6 L129.8,348.5 L130.7,348.7 L131.6,348.8 L132.5,349.1 L133.4,348.9 L134.3,348.9 L135.2,349.0 L136.1,349.0 L137.0,349.0 L137.9,349.0 L138.8,349.0 L139.7,349.0 L140.6,349.1 L141.5,349.1 L142.4,349.1 L143.3,349.1 L144.2,349.1 L145.1,349.2 L146.0,349.2 L146.9,349.2 L147.8,349.2 L148.7,349.2 L149.6,349.3 L150.5,349.3 L151.4,349.3 L152.3,349.3 L153.2,349.3 L154.1,349.3 L155.0,349.4 L155.9,349.4 L156.8,349.4 L157.7,349.4 L158.6,349.4 L159.5,349.5 L160.4,349.5 L161.3,349.5 L162.2,349.5 L163.1,349.5 L164.0,349.6 L164.9,349.6 L165.8,349.6 L166.7,349.6 L167.6,349.6 L168.5,349.6 L169.4,349.7 L170.3,349.7 L171.0,349.7 L171.2,349.7 L171.3,349.7 Z" fill="#b7d89e" stroke="#4f9230" stroke-width="1.35" stroke-linejoin="round"/><path d="M43.4,361.5 L43.4,361.2 L44.3,361.0 L45.2,360.9 L46.1,360.8 L47.0,360.7 L47.9,360.8 L48.8,360.6 L49.7,360.4 L50.6,360.2 L51.5,360.0 L52.4,359.9 L53.3,359.8 L54.2,359.8 L54.5,359.8 L55.1,359.6 L56.0,359.4 L56.9,359.2 L57.8,359.0 L58.7,358.9 L59.6,358.7 L60.5,358.6 L61.4,358.4 L62.2,358.3 L62.3,358.3 L63.2,358.1 L64.1,357.8 L65.0,357.5 L65.9,357.2 L66.8,357.1 L67.7,356.6 L68.0,356.4 L68.6,356.4 L69.5,355.9 L70.0,355.6 L70.4,355.1 L71.3,353.5 L72.2,353.1 L73.0,352.5 L73.1,352.4 L74.0,351.6 L74.9,350.0 L75.8,348.8 L76.7,348.6 L77.6,348.6 L78.5,346.8 L79.4,345.2 L79.6,345.0 L80.3,345.1 L81.2,345.4 L82.0,342.5 L82.1,342.5 L83.0,341.1 L83.9,339.6 L84.4,339.2 L84.8,338.8 L85.7,338.2 L86.5,337.5 L86.6,337.4 L87.5,336.6 L88.4,335.0 L89.2,334.4 L89.3,334.4 L90.2,334.9 L91.0,336.5 L91.1,336.5 L92.0,335.6 L92.9,336.6 L93.0,336.8 L93.8,334.9 L94.7,334.7 L95.6,335.4 L96.0,335.4 L96.5,335.8 L97.4,336.9 L98.0,337.3 L98.3,337.5 L99.2,337.8 L99.8,339.2 L100.1,339.0 L101.0,339.3 L101.5,341.0 L101.9,340.9 L102.8,342.5 L103.7,345.0 L104.6,346.0 L105.5,347.2 L106.4,348.3 L107.3,349.4 L108.2,351.2 L108.5,351.7 L109.1,352.7 L110.0,354.0 L110.9,354.8 L111.8,356.5 L112.3,357.5 L112.7,357.6 L113.6,357.9 L114.5,358.3 L115.4,358.6 L116.3,358.9 L117.1,359.4 L117.2,359.4 L118.1,359.5 L119.0,359.9 L119.9,359.9 L120.8,359.7 L121.7,359.6 L122.6,359.7 L123.5,360.2 L124.0,360.5 L124.4,360.4 L125.3,360.7 L126.2,360.9 L127.1,361.1 L128.0,361.0 L128.9,360.7 L129.8,360.6 L130.7,360.7 L131.6,360.8 L132.5,360.9 L133.4,361.0 L134.3,360.7 L135.2,360.7 L136.1,360.8 L137.0,360.8 L137.9,360.8 L138.8,360.8 L139.7,360.8 L140.6,360.9 L141.5,360.9 L142.4,360.9 L143.3,360.9 L144.2,360.9 L145.1,360.9 L146.0,361.0 L146.9,361.0 L147.8,361.0 L148.7,361.0 L149.6,361.0 L150.5,361.1 L151.4,361.1 L152.3,361.1 L153.2,361.1 L154.1,361.1 L155.0,361.2 L155.9,361.2 L156.8,361.2 L157.7,361.2 L158.6,361.2 L159.5,361.3 L160.4,361.3 L161.3,361.3 L162.2,361.3 L163.1,361.3 L164.0,361.4 L164.9,361.4 L165.8,361.4 L166.7,361.4 L167.6,361.4 L168.5,361.4 L169.4,361.5 L170.3,361.5 L171.0,361.5 L171.2,361.5 L171.3,361.5 Z" fill="#b7d89e" stroke="#4f9230" stroke-width="1.35" stroke-linejoin="round"/><path d="M43.4,372.8 L43.4,372.6 L44.3,372.5 L45.2,372.5 L46.1,372.4 L47.0,372.4 L47.9,372.3 L48.8,372.2 L49.7,372.2 L50.6,372.1 L51.5,372.1 L52.4,372.0 L53.3,372.2 L54.2,372.0 L55.1,371.8 L56.0,371.8 L56.9,371.9 L57.8,371.9 L58.7,371.6 L59.6,371.3 L60.5,371.3 L61.4,371.3 L62.2,371.4 L62.3,371.3 L63.2,370.5 L64.1,370.2 L65.0,370.1 L65.9,369.9 L66.8,369.6 L67.7,369.5 L68.0,369.5 L68.6,369.0 L69.5,368.4 L70.0,368.0 L70.4,367.7 L71.3,367.2 L72.2,365.9 L73.1,364.6 L74.0,364.5 L74.9,363.2 L75.8,362.3 L76.7,361.1 L77.6,360.5 L77.7,360.4 L78.5,359.0 L79.4,357.8 L80.3,356.4 L81.2,355.7 L81.5,355.6 L82.1,354.5 L83.0,354.6 L83.9,352.0 L84.4,349.8 L84.8,350.2 L85.7,350.3 L86.6,347.3 L87.5,345.1 L87.8,345.0 L88.4,344.5 L89.3,346.1 L89.5,347.0 L90.2,346.8 L91.1,348.0 L91.2,347.9 L92.0,349.1 L92.9,348.3 L93.8,346.3 L94.0,346.0 L94.7,347.1 L95.6,348.2 L96.0,348.8 L96.5,348.8 L97.4,349.2 L98.3,348.3 L98.8,347.9 L99.2,348.6 L100.1,350.2 L101.0,351.1 L101.7,351.7 L101.9,351.9 L102.8,352.0 L103.7,352.4 L104.6,354.1 L105.5,355.5 L105.6,355.6 L106.4,356.8 L107.3,358.2 L108.2,360.0 L108.5,360.4 L109.1,362.2 L110.0,364.1 L110.9,365.3 L111.3,366.2 L111.8,366.5 L112.7,366.8 L113.6,367.6 L114.5,369.0 L115.2,370.0 L115.4,370.0 L116.3,370.3 L117.2,370.7 L118.1,371.1 L119.0,371.5 L119.9,371.5 L120.0,371.5 L120.8,371.5 L121.7,371.4 L122.6,371.4 L123.5,371.5 L124.4,371.6 L125.3,371.7 L126.2,372.0 L127.1,372.3 L128.0,372.3 L128.9,372.1 L129.8,372.0 L130.7,372.1 L131.6,372.1 L132.5,372.1 L133.4,372.1 L134.3,372.0 L135.2,371.9 L136.1,372.0 L137.0,372.2 L137.9,372.2 L138.8,372.1 L139.7,372.0 L140.6,372.0 L141.5,372.0 L142.4,372.1 L143.3,372.1 L144.2,372.1 L145.1,372.1 L146.0,372.2 L146.9,372.2 L147.8,372.2 L148.7,372.2 L149.6,372.3 L150.5,372.3 L151.4,372.3 L152.3,372.3 L153.2,372.3 L154.1,372.4 L155.0,372.4 L155.9,372.4 L156.8,372.4 L157.7,372.5 L158.6,372.5 L159.5,372.5 L160.4,372.5 L161.3,372.6 L162.2,372.6 L163.1,372.6 L164.0,372.6 L164.9,372.6 L165.8,372.7 L166.7,372.7 L167.6,372.7 L168.5,372.7 L169.4,372.8 L170.3,372.8 L171.0,372.8 L171.2,372.8 L171.3,372.8 Z" fill="#b7d89e" stroke="#4f9230" stroke-width="1.35" stroke-linejoin="round"/><line x1="75.6" y1="250.3" x2="75.6" y2="372.8" stroke="#000" stroke-width="1.4" stroke-dasharray="2.4,2.3"/><line x1="88.8" y1="250.3" x2="88.8" y2="372.8" stroke="#000" stroke-width="1.4" stroke-dasharray="2.4,2.3"/><line x1="100.5" y1="250.3" x2="100.5" y2="372.8" stroke="#000" stroke-width="1.4" stroke-dasharray="2.4,2.3"/><line x1="110.1" y1="250.3" x2="110.1" y2="372.8" stroke="#000" stroke-width="1.4" stroke-dasharray="2.4,2.3"/></g>
<rect x="44.4" y="250.3" width="125.9" height="122.5" fill="none" stroke="#000" stroke-width="1.5"/>
<text x="107.2" y="237.3" font-size="7.7" text-anchor="middle" font-weight="bold" fill="#000" >BM</text>
<text x="46" y="248.6" font-size="7.9" text-anchor="start" font-weight="normal" fill="#444" style="stroke:#444;stroke-width:0.1px">GFP:</text>
<text x="71.5" y="248.6" font-size="7.7" text-anchor="middle" font-weight="normal" fill="#444" style="stroke:#444;stroke-width:0.1px">0</text>
<text x="83.3" y="248.6" font-size="7.7" text-anchor="middle" font-weight="normal" fill="#444" style="stroke:#444;stroke-width:0.1px">1</text>
<text x="94" y="248.6" font-size="7.7" text-anchor="middle" font-weight="normal" fill="#444" style="stroke:#444;stroke-width:0.1px">2</text>
<text x="105.4" y="248.6" font-size="7.7" text-anchor="middle" font-weight="normal" fill="#444" style="stroke:#444;stroke-width:0.1px">3</text>
<text x="116.6" y="248.6" font-size="7.7" text-anchor="middle" font-weight="normal" fill="#444" style="stroke:#444;stroke-width:0.1px">4</text>
<text x="164.9" y="278.7" font-size="8.2" text-anchor="end" font-weight="normal" fill="#333" >Control</text>
<text x="166.3" y="312.8" font-size="8.0" text-anchor="end" font-weight="normal" fill="#333" >3 Hours</text>
<text x="166.3" y="347.8" font-size="8.0" text-anchor="end" font-weight="normal" fill="#333" >2 Weeks</text>
<text transform="translate(37.6,313.15000000000003) rotate(-90)" font-size="8.9" text-anchor="middle" fill="#222">LSKCD48<tspan font-size="5.5" dy="-3" dx="0.3">-</tspan><tspan dy="3" dx="0.2">CD150</tspan><tspan font-size="5.5" dy="-3">+</tspan></text>
<line x1="46.53" y1="373.5" x2="46.53" y2="375.8" stroke="#000" stroke-width="0.8"/>
<line x1="48.06" y1="373.5" x2="48.06" y2="375.8" stroke="#000" stroke-width="0.8"/>
<line x1="49.59" y1="373.5" x2="49.59" y2="375.8" stroke="#000" stroke-width="0.8"/>
<line x1="51.12" y1="373.5" x2="51.12" y2="375.8" stroke="#000" stroke-width="0.8"/>
<line x1="52.64" y1="373.5" x2="52.64" y2="375.8" stroke="#000" stroke-width="0.8"/>
<line x1="54.17" y1="373.5" x2="54.17" y2="375.8" stroke="#000" stroke-width="0.8"/>
<line x1="55.70" y1="373.5" x2="55.70" y2="375.8" stroke="#000" stroke-width="0.8"/>
<line x1="57.22" y1="373.5" x2="57.22" y2="375.8" stroke="#000" stroke-width="0.8"/>
<line x1="61.04" y1="373.5" x2="61.04" y2="375.8" stroke="#000" stroke-width="0.8"/>
<line x1="63.33" y1="373.5" x2="63.33" y2="375.8" stroke="#000" stroke-width="0.8"/>
<line x1="65.62" y1="373.5" x2="65.62" y2="375.8" stroke="#000" stroke-width="0.8"/>
<line x1="67.91" y1="373.5" x2="67.91" y2="375.8" stroke="#000" stroke-width="0.8"/>
<line x1="70.20" y1="373.5" x2="70.20" y2="375.8" stroke="#000" stroke-width="0.8"/>
<line x1="72.49" y1="373.5" x2="72.49" y2="375.8" stroke="#000" stroke-width="0.8"/>
<line x1="74.78" y1="373.5" x2="74.78" y2="375.8" stroke="#000" stroke-width="0.8"/>
<line x1="77.07" y1="373.5" x2="77.07" y2="375.8" stroke="#000" stroke-width="0.8"/>
<line x1="79.36" y1="373.5" x2="79.36" y2="375.8" stroke="#000" stroke-width="0.8"/>
<line x1="91.86" y1="373.5" x2="91.86" y2="375.8" stroke="#000" stroke-width="0.8"/>
<line x1="96.34" y1="373.5" x2="96.34" y2="375.8" stroke="#000" stroke-width="0.8"/>
<line x1="99.52" y1="373.5" x2="99.52" y2="375.8" stroke="#000" stroke-width="0.8"/>
<line x1="101.99" y1="373.5" x2="101.99" y2="375.8" stroke="#000" stroke-width="0.8"/>
<line x1="104.00" y1="373.5" x2="104.00" y2="375.8" stroke="#000" stroke-width="0.8"/>
<line x1="105.71" y1="373.5" x2="105.71" y2="375.8" stroke="#000" stroke-width="0.8"/>
<line x1="107.18" y1="373.5" x2="107.18" y2="375.8" stroke="#000" stroke-width="0.8"/>
<line x1="108.49" y1="373.5" x2="108.49" y2="375.8" stroke="#000" stroke-width="0.8"/>
<line x1="117.31" y1="373.5" x2="117.31" y2="375.8" stroke="#000" stroke-width="0.8"/>
<line x1="121.79" y1="373.5" x2="121.79" y2="375.8" stroke="#000" stroke-width="0.8"/>
<line x1="124.97" y1="373.5" x2="124.97" y2="375.8" stroke="#000" stroke-width="0.8"/>
<line x1="127.44" y1="373.5" x2="127.44" y2="375.8" stroke="#000" stroke-width="0.8"/>
<line x1="129.45" y1="373.5" x2="129.45" y2="375.8" stroke="#000" stroke-width="0.8"/>
<line x1="131.16" y1="373.5" x2="131.16" y2="375.8" stroke="#000" stroke-width="0.8"/>
<line x1="132.63" y1="373.5" x2="132.63" y2="375.8" stroke="#000" stroke-width="0.8"/>
<line x1="133.94" y1="373.5" x2="133.94" y2="375.8" stroke="#000" stroke-width="0.8"/>
<line x1="142.76" y1="373.5" x2="142.76" y2="375.8" stroke="#000" stroke-width="0.8"/>
<line x1="147.24" y1="373.5" x2="147.24" y2="375.8" stroke="#000" stroke-width="0.8"/>
<line x1="150.42" y1="373.5" x2="150.42" y2="375.8" stroke="#000" stroke-width="0.8"/>
<line x1="152.89" y1="373.5" x2="152.89" y2="375.8" stroke="#000" stroke-width="0.8"/>
<line x1="154.90" y1="373.5" x2="154.90" y2="375.8" stroke="#000" stroke-width="0.8"/>
<line x1="156.61" y1="373.5" x2="156.61" y2="375.8" stroke="#000" stroke-width="0.8"/>
<line x1="158.08" y1="373.5" x2="158.08" y2="375.8" stroke="#000" stroke-width="0.8"/>
<line x1="159.39" y1="373.5" x2="159.39" y2="375.8" stroke="#000" stroke-width="0.8"/>
<line x1="58.75" y1="373.5" x2="58.75" y2="376.9" stroke="#000" stroke-width="0.8"/>
<line x1="84.20" y1="373.5" x2="84.20" y2="376.9" stroke="#000" stroke-width="0.8"/>
<line x1="109.65" y1="373.5" x2="109.65" y2="376.9" stroke="#000" stroke-width="0.8"/>
<line x1="135.10" y1="373.5" x2="135.10" y2="376.9" stroke="#000" stroke-width="0.8"/>
<line x1="160.55" y1="373.5" x2="160.55" y2="376.9" stroke="#000" stroke-width="0.8"/>
<text x="58.75" y="386.9" font-size="8.4" text-anchor="middle" font-weight="normal" fill="#1a1a1a" >0</text>
<text x="84.35" y="386.9" font-size="8.4" text-anchor="middle" fill="#1a1a1a">10<tspan font-size="5.5" dy="-3.7">2</tspan></text>
<text x="109.75" y="386.9" font-size="8.4" text-anchor="middle" fill="#1a1a1a">10<tspan font-size="5.5" dy="-3.7">3</tspan></text>
<text x="135.15" y="386.9" font-size="8.4" text-anchor="middle" fill="#1a1a1a">10<tspan font-size="5.5" dy="-3.7">4</tspan></text>
<text x="160.55" y="386.9" font-size="8.4" text-anchor="middle" fill="#1a1a1a">10<tspan font-size="5.5" dy="-3.7">5</tspan></text>
<clipPath id="clip200"><rect x="200" y="250.3" width="125.69999999999999" height="122.59999999999997"/></clipPath>
<g clip-path="url(#clip200)"><path d="M199.0,279.7 L199.0,272.6 L199.9,272.9 L200.8,271.9 L201.7,271.1 L201.8,271.0 L202.6,270.2 L203.5,269.5 L204.4,268.5 L204.7,268.1 L205.3,267.9 L206.2,267.0 L207.1,266.3 L207.6,266.2 L208.0,266.1 L208.9,266.4 L209.8,265.4 L210.5,265.2 L210.7,264.7 L211.6,262.4 L212.5,261.5 L213.4,260.4 L214.3,258.7 L215.2,257.2 L215.3,257.0 L216.1,257.6 L217.0,258.2 L217.9,259.2 L218.2,259.5 L218.8,258.7 L219.7,257.1 L220.1,256.6 L220.6,255.6 L221.5,253.9 L222.4,254.3 L222.6,254.3 L223.3,255.1 L224.2,256.6 L224.9,259.5 L225.1,258.9 L226.0,258.2 L226.8,258.5 L226.9,258.8 L227.8,260.4 L228.7,261.5 L229.6,264.9 L229.7,265.2 L230.5,265.3 L231.4,266.0 L232.3,266.1 L232.6,266.2 L233.2,266.9 L234.1,268.8 L235.0,270.0 L235.5,270.1 L235.9,270.6 L236.8,271.0 L237.7,272.3 L238.4,272.9 L238.6,273.0 L239.5,273.2 L240.4,272.5 L241.3,272.0 L242.2,272.4 L243.1,272.9 L244.0,273.7 L244.2,273.9 L244.9,273.5 L245.8,273.0 L246.7,272.9 L247.0,272.9 L247.6,272.8 L248.5,272.7 L249.4,273.2 L249.9,273.5 L250.3,273.1 L251.2,272.5 L252.1,272.4 L252.8,272.0 L253.0,272.2 L253.9,272.9 L254.8,273.3 L255.7,273.9 L256.6,272.9 L257.5,271.7 L258.4,270.4 L258.6,270.1 L259.3,270.6 L260.2,270.9 L261.1,272.2 L261.5,272.9 L262.0,273.5 L262.9,275.1 L263.8,276.9 L264.3,277.7 L264.7,278.0 L265.6,278.5 L266.5,278.4 L267.2,278.7 L267.4,278.7 L268.3,278.6 L269.2,278.6 L270.1,278.9 L271.0,279.0 L271.9,279.1 L272.8,279.1 L273.7,279.2 L274.6,279.3 L274.9,279.3 L275.5,279.3 L276.4,279.2 L277.3,279.2 L278.2,279.2 L279.1,279.2 L280.0,279.1 L280.7,279.1 L280.9,279.1 L281.8,279.2 L282.7,279.3 L283.6,279.3 L284.5,279.4 L285.4,279.5 L286.3,279.5 L287.2,279.6 L288.1,279.7 L289.0,279.7 L289.9,279.7 L290.0,279.7 L290.8,279.7 L291.7,279.7 L292.6,279.7 L293.5,279.7 L294.4,279.7 L295.3,279.7 L296.2,279.7 L297.1,279.7 L298.0,279.7 L298.9,279.7 L299.8,279.7 L300.7,279.7 L301.6,279.7 L302.5,279.7 L303.4,279.7 L304.3,279.7 L305.2,279.7 L306.1,279.7 L307.0,279.7 L307.9,279.7 L308.8,279.7 L309.7,279.7 L310.0,279.7 L310.6,279.7 L311.5,279.7 L312.4,279.7 L313.3,279.7 L314.2,279.7 L315.1,279.7 L316.0,279.7 L316.9,279.7 L317.8,279.7 L318.7,279.7 L319.6,279.7 L320.5,279.7 L321.4,279.7 L322.3,279.7 L323.2,279.7 L324.1,279.7 L325.0,279.7 L325.9,279.7 L326.0,279.7 L326.7,279.7 Z" fill="#8892bc" stroke="#222f66" stroke-width="1.35" stroke-linejoin="round"/><path d="M199.0,291.4 L199.0,285.9 L199.9,285.2 L200.8,284.1 L201.7,282.8 L202.6,281.6 L202.8,281.4 L203.5,280.6 L204.4,280.1 L205.3,279.0 L205.7,278.5 L206.2,276.9 L207.1,273.2 L208.0,270.9 L208.6,269.9 L208.9,269.2 L209.8,268.4 L210.7,269.0 L211.5,267.9 L211.6,268.1 L212.5,268.6 L213.4,269.9 L214.3,272.7 L215.2,271.3 L216.1,270.4 L217.0,269.2 L217.2,268.9 L217.9,270.1 L218.8,271.7 L219.7,272.2 L220.1,272.7 L220.6,272.0 L221.5,271.2 L222.4,271.0 L223.0,269.9 L223.3,269.9 L224.2,267.8 L225.1,266.3 L225.9,267.9 L226.0,267.9 L226.9,268.7 L227.8,269.7 L228.7,271.6 L228.8,271.8 L229.6,271.6 L230.5,272.3 L231.4,273.4 L231.7,273.7 L232.3,274.7 L233.2,276.2 L234.1,278.5 L234.5,279.5 L235.0,280.1 L235.9,281.1 L236.8,282.4 L237.4,283.3 L237.7,283.5 L238.6,283.9 L239.5,284.7 L240.3,285.2 L240.4,285.3 L241.3,286.2 L242.2,286.4 L243.1,286.4 L244.0,286.1 L244.2,286.2 L244.9,285.4 L245.8,284.7 L246.7,284.4 L247.6,284.4 L248.0,284.3 L248.5,284.2 L249.4,284.2 L250.3,283.9 L251.2,283.6 L251.8,283.3 L252.1,283.0 L253.0,282.1 L253.9,280.8 L254.7,279.5 L254.8,279.6 L255.7,280.3 L256.6,281.3 L256.7,281.4 L257.5,282.3 L258.4,284.2 L259.3,285.0 L259.5,285.2 L260.2,286.2 L261.1,287.0 L262.0,288.3 L262.9,289.5 L263.4,290.0 L263.8,290.1 L264.7,290.3 L265.6,290.7 L266.5,291.0 L267.2,291.2 L267.4,291.2 L268.3,291.2 L269.2,291.2 L270.1,291.2 L271.0,291.2 L271.9,291.2 L272.8,291.2 L273.7,291.2 L274.6,291.2 L275.5,291.2 L276.4,291.2 L277.3,291.2 L278.2,291.1 L279.1,291.1 L280.0,291.1 L280.9,291.1 L281.8,291.1 L282.7,291.1 L283.6,291.1 L284.5,291.1 L285.4,291.1 L286.3,291.1 L287.2,291.1 L288.1,291.1 L289.0,291.1 L289.9,291.1 L290.8,291.1 L291.7,291.1 L292.6,291.1 L293.5,291.1 L294.4,291.1 L295.3,291.1 L296.2,291.1 L297.1,291.1 L298.0,291.1 L298.9,291.1 L299.8,291.0 L300.7,291.0 L301.6,291.0 L302.5,291.0 L303.4,291.0 L304.3,291.0 L305.2,291.0 L306.1,291.0 L307.0,291.0 L307.9,291.0 L308.8,291.0 L309.7,291.0 L310.0,291.0 L310.6,291.0 L311.5,291.0 L312.4,291.1 L313.3,291.1 L314.2,291.1 L315.1,291.1 L316.0,291.1 L316.9,291.2 L317.8,291.2 L318.7,291.2 L319.6,291.2 L320.5,291.3 L321.4,291.3 L322.3,291.3 L323.2,291.3 L324.1,291.4 L325.0,291.4 L325.9,291.4 L326.0,291.4 L326.7,291.4 Z" fill="#8892bc" stroke="#222f66" stroke-width="1.35" stroke-linejoin="round"/><path d="M199.0,303.3 L199.0,295.3 L199.9,294.7 L200.8,293.0 L201.7,291.3 L202.6,289.4 L202.8,288.9 L203.5,288.2 L204.4,286.4 L205.3,286.0 L205.7,286.0 L206.2,285.6 L207.1,286.0 L208.0,284.6 L208.6,284.1 L208.9,283.6 L209.8,281.8 L210.7,280.6 L211.5,280.2 L211.6,280.0 L212.5,278.8 L213.4,277.6 L214.3,277.3 L215.2,276.6 L216.1,279.4 L217.0,281.2 L217.2,281.2 L217.9,281.5 L218.8,280.8 L219.7,279.8 L220.1,279.3 L220.6,280.2 L221.5,282.3 L222.4,282.7 L223.0,282.2 L223.3,282.6 L224.2,283.0 L225.1,281.3 L225.9,280.2 L226.0,280.4 L226.9,281.5 L227.8,282.8 L228.7,284.0 L228.8,284.1 L229.6,284.6 L230.5,284.0 L231.4,286.2 L231.7,287.0 L232.3,287.2 L233.2,288.8 L234.1,289.8 L234.5,289.8 L235.0,291.0 L235.9,292.7 L236.8,292.7 L237.4,292.7 L237.7,292.8 L238.6,292.2 L239.5,291.8 L240.3,291.8 L240.4,291.8 L241.3,291.9 L242.2,292.4 L243.1,292.8 L244.0,292.8 L244.2,292.7 L244.9,292.6 L245.8,292.4 L246.7,291.9 L247.6,290.5 L248.0,289.8 L248.5,290.0 L249.4,289.8 L250.3,288.2 L251.2,287.2 L251.8,287.0 L252.1,286.8 L253.0,286.8 L253.9,286.8 L254.7,285.0 L254.8,285.4 L255.7,287.3 L256.6,286.5 L257.5,287.7 L257.6,287.9 L258.4,289.1 L259.3,290.9 L260.2,292.2 L260.5,292.7 L261.1,293.9 L262.0,295.3 L262.9,297.0 L263.8,299.2 L264.3,300.4 L264.7,300.5 L265.6,300.8 L266.5,301.3 L267.4,301.7 L268.3,302.1 L269.2,302.7 L270.1,302.7 L271.0,302.7 L271.9,302.7 L272.8,302.7 L273.7,302.7 L274.6,302.8 L275.5,302.8 L276.4,302.8 L277.3,302.8 L278.2,302.8 L279.1,302.8 L280.0,302.8 L280.9,302.8 L281.8,302.8 L282.7,302.8 L283.6,302.9 L284.5,302.9 L285.4,302.9 L286.3,302.9 L287.2,302.9 L288.1,302.9 L289.0,302.9 L289.9,302.9 L290.8,302.9 L291.7,302.9 L292.6,302.9 L293.5,303.0 L294.4,303.0 L295.3,303.0 L296.2,303.0 L297.1,303.0 L298.0,303.0 L298.9,303.0 L299.8,303.0 L300.7,303.0 L301.6,303.0 L302.5,303.1 L303.4,303.1 L304.3,303.1 L305.2,303.1 L306.1,303.1 L307.0,303.1 L307.9,303.1 L308.8,303.1 L309.7,303.1 L310.6,303.1 L311.5,303.1 L312.4,303.2 L313.3,303.2 L314.2,303.2 L315.1,303.2 L316.0,303.2 L316.9,303.2 L317.8,303.2 L318.7,303.2 L319.6,303.2 L320.5,303.2 L321.4,303.3 L322.3,303.3 L323.2,303.3 L324.1,303.3 L325.0,303.3 L325.9,303.3 L326.0,303.3 L326.7,303.3 Z" fill="#8892bc" stroke="#222f66" stroke-width="1.35" stroke-linejoin="round"/><path d="M199.0,314.9 L199.0,314.5 L199.9,314.5 L200.8,314.3 L201.7,314.0 L202.6,313.9 L203.5,313.5 L204.4,313.0 L205.3,312.9 L205.7,313.0 L206.2,312.7 L207.1,312.4 L208.0,311.9 L208.9,311.3 L209.8,311.3 L210.7,311.5 L211.5,311.1 L211.6,311.0 L212.5,310.3 L213.4,309.6 L214.3,309.3 L215.2,308.9 L215.3,308.8 L216.1,308.6 L217.0,308.3 L217.9,307.6 L218.8,307.2 L219.2,307.2 L219.7,306.9 L220.6,307.0 L221.5,306.7 L222.4,305.7 L223.0,305.3 L223.3,305.1 L224.2,304.0 L225.1,303.2 L226.0,303.4 L226.8,302.4 L226.9,302.5 L227.8,302.7 L228.7,301.4 L229.6,300.6 L229.7,300.5 L230.5,298.9 L231.4,297.3 L232.3,296.2 L232.6,295.7 L233.2,297.3 L234.1,300.3 L235.0,301.9 L235.5,302.4 L235.9,301.8 L236.8,298.8 L237.7,298.7 L238.4,298.6 L238.6,298.4 L239.5,297.2 L240.4,295.4 L241.3,295.7 L242.2,296.9 L243.1,299.5 L244.0,299.5 L244.2,299.5 L244.9,299.4 L245.8,298.3 L246.7,296.2 L247.0,295.7 L247.6,294.7 L248.5,293.3 L249.4,290.9 L249.9,289.9 L250.3,289.1 L251.2,288.5 L251.5,289.0 L252.1,289.9 L253.0,292.9 L253.8,294.7 L253.9,294.8 L254.8,294.7 L255.7,296.6 L256.6,297.7 L257.5,298.1 L258.4,297.5 L258.6,297.6 L259.3,298.0 L260.2,299.8 L261.1,301.2 L261.5,301.5 L262.0,302.0 L262.9,302.2 L263.8,303.6 L264.3,304.3 L264.7,304.7 L265.6,305.9 L266.5,307.3 L267.2,308.2 L267.4,308.2 L268.3,307.5 L269.2,307.1 L270.1,308.2 L271.0,309.1 L271.1,309.1 L271.9,309.4 L272.8,309.7 L273.7,309.8 L274.6,310.4 L274.9,310.7 L275.5,310.4 L276.4,310.7 L277.3,310.9 L278.2,310.4 L278.8,310.1 L279.1,310.4 L280.0,311.0 L280.9,311.4 L281.8,311.6 L282.6,312.0 L282.7,312.0 L283.6,312.0 L284.5,312.1 L285.4,312.4 L286.3,312.9 L286.5,313.0 L287.2,313.1 L288.1,313.5 L289.0,313.8 L289.9,313.5 L290.8,313.2 L291.7,313.2 L292.6,313.4 L293.5,313.4 L294.4,313.3 L295.3,313.3 L296.2,313.6 L297.1,313.9 L298.0,314.1 L298.9,314.2 L299.8,314.3 L300.0,314.3 L300.7,314.3 L301.6,314.3 L302.5,314.4 L303.4,314.4 L304.3,314.4 L305.2,314.4 L306.1,314.4 L307.0,314.5 L307.9,314.5 L308.8,314.5 L309.7,314.5 L310.6,314.5 L311.5,314.6 L312.4,314.6 L313.3,314.6 L314.2,314.6 L315.1,314.6 L316.0,314.7 L316.9,314.7 L317.8,314.7 L318.7,314.7 L319.6,314.8 L320.5,314.8 L321.4,314.8 L322.3,314.8 L323.2,314.8 L324.1,314.9 L325.0,314.9 L325.9,314.9 L326.0,314.9 L326.7,314.9 Z" fill="#df9f9f" stroke="#7a0c22" stroke-width="1.35" stroke-linejoin="round"/><path d="M199.0,326.5 L199.0,326.1 L199.9,326.1 L200.8,325.7 L201.7,325.4 L202.6,324.9 L203.5,324.5 L204.4,324.0 L205.3,323.7 L205.7,323.6 L206.2,323.5 L207.1,323.9 L208.0,322.9 L208.9,321.8 L209.8,321.5 L210.7,321.2 L211.5,320.7 L211.6,320.7 L212.5,320.7 L213.4,320.2 L214.3,319.3 L215.2,318.5 L216.1,318.2 L217.0,317.9 L217.2,317.8 L217.9,317.5 L218.8,316.8 L219.7,317.2 L220.6,317.9 L221.5,317.2 L222.4,315.7 L223.0,315.9 L223.3,315.3 L224.2,314.7 L225.1,315.2 L226.0,314.3 L226.8,314.0 L226.9,313.9 L227.8,312.4 L228.7,311.4 L229.6,309.5 L230.5,307.0 L231.4,308.6 L231.7,309.1 L232.3,309.4 L233.2,311.6 L234.1,310.6 L234.5,311.1 L235.0,309.4 L235.9,307.8 L236.8,307.9 L237.4,307.2 L237.7,307.5 L238.6,309.1 L239.5,308.5 L240.3,308.2 L240.4,308.0 L241.3,306.0 L242.2,306.4 L243.1,306.9 L244.0,305.5 L244.2,305.3 L244.9,306.2 L245.8,308.5 L246.7,309.9 L247.0,310.1 L247.6,310.2 L248.5,309.7 L249.4,307.9 L249.9,307.2 L250.3,307.4 L251.2,307.2 L252.1,309.3 L252.8,310.1 L253.0,310.2 L253.9,310.8 L254.8,310.5 L255.7,309.1 L256.6,310.4 L257.5,310.9 L258.4,311.4 L259.3,312.7 L259.5,313.0 L260.2,314.1 L261.1,316.0 L262.0,316.1 L262.9,316.3 L263.4,316.8 L263.8,317.3 L264.7,318.7 L265.6,319.5 L266.5,320.1 L267.2,320.7 L267.4,320.8 L268.3,320.8 L269.2,320.9 L270.1,321.5 L271.0,322.1 L271.9,322.3 L272.8,322.4 L273.7,322.9 L274.6,323.5 L274.9,323.6 L275.5,323.7 L276.4,323.8 L277.3,323.8 L278.2,324.0 L279.1,324.1 L280.0,324.3 L280.9,324.5 L281.8,324.9 L282.6,324.9 L282.7,324.9 L283.6,325.3 L284.5,325.2 L285.4,325.1 L286.3,324.9 L287.2,324.9 L288.1,325.3 L289.0,325.7 L289.9,325.6 L290.8,325.4 L291.7,325.4 L292.6,325.5 L293.5,325.5 L294.4,325.7 L295.3,325.7 L296.2,325.7 L297.1,325.7 L298.0,325.8 L298.9,325.8 L299.8,325.9 L300.0,325.9 L300.7,325.9 L301.6,325.9 L302.5,326.0 L303.4,326.0 L304.3,326.0 L305.2,326.0 L306.1,326.0 L307.0,326.1 L307.9,326.1 L308.8,326.1 L309.7,326.1 L310.6,326.1 L311.5,326.2 L312.4,326.2 L313.3,326.2 L314.2,326.2 L315.1,326.2 L316.0,326.3 L316.9,326.3 L317.8,326.3 L318.7,326.3 L319.6,326.4 L320.5,326.4 L321.4,326.4 L322.3,326.4 L323.2,326.4 L324.1,326.5 L325.0,326.5 L325.9,326.5 L326.0,326.5 L326.7,326.5 Z" fill="#df9f9f" stroke="#7a0c22" stroke-width="1.35" stroke-linejoin="round"/><path d="M199.0,338.2 L199.0,337.4 L199.9,337.3 L200.8,336.8 L201.7,336.5 L202.6,336.3 L203.5,336.0 L204.4,335.8 L205.3,335.5 L205.7,335.4 L206.2,334.9 L207.1,333.8 L208.0,333.7 L208.9,333.6 L209.8,333.2 L210.7,332.8 L211.5,332.5 L211.6,332.4 L212.5,331.6 L213.4,330.9 L214.3,330.2 L215.2,329.7 L215.3,329.6 L216.1,329.5 L217.0,329.6 L217.9,328.9 L218.8,328.6 L219.2,328.7 L219.7,327.9 L220.6,326.2 L221.5,325.8 L222.4,325.9 L223.3,325.4 L224.0,324.8 L224.2,324.5 L225.1,322.1 L226.0,322.3 L226.9,322.7 L227.8,322.7 L228.7,321.3 L228.8,321.0 L229.6,321.2 L230.5,319.6 L231.4,317.9 L232.3,316.7 L232.6,316.2 L233.2,316.9 L234.1,317.1 L235.0,317.0 L235.9,318.7 L236.5,319.1 L236.8,318.9 L237.7,318.0 L238.6,315.6 L239.3,314.3 L239.5,314.6 L240.4,316.5 L241.3,317.3 L242.2,317.1 L243.1,315.4 L244.0,314.7 L244.9,312.9 L245.1,312.3 L245.8,313.7 L246.7,314.2 L247.6,315.5 L248.0,316.2 L248.5,315.7 L249.4,314.8 L250.3,314.3 L250.9,314.3 L251.2,314.3 L252.1,315.5 L253.0,317.2 L253.9,317.3 L254.7,317.1 L254.8,317.2 L255.7,317.9 L256.6,317.5 L257.5,318.0 L258.4,319.0 L258.6,319.1 L259.3,320.0 L260.2,320.4 L261.1,320.8 L262.0,321.9 L262.9,323.2 L263.4,323.9 L263.8,324.4 L264.7,325.8 L265.6,327.0 L266.5,328.4 L267.2,329.6 L267.4,329.7 L268.3,331.1 L269.2,332.2 L270.1,332.2 L271.0,332.3 L271.9,333.2 L272.8,333.5 L273.0,333.5 L273.7,333.8 L274.6,333.6 L275.5,333.9 L276.4,334.5 L277.3,334.8 L278.2,334.6 L278.8,334.8 L279.1,334.7 L280.0,335.0 L280.9,335.6 L281.8,335.7 L282.7,335.7 L283.6,335.7 L284.5,335.6 L285.4,335.8 L286.3,336.0 L286.5,336.0 L287.2,336.3 L288.1,336.4 L289.0,336.4 L289.9,336.5 L290.8,336.5 L291.7,336.6 L292.6,336.8 L293.5,336.8 L294.4,336.7 L295.3,336.6 L296.2,336.5 L297.1,336.4 L298.0,336.8 L298.9,337.1 L299.8,337.2 L300.0,337.2 L300.7,337.1 L301.6,337.2 L302.5,337.4 L303.4,337.5 L304.3,337.3 L305.2,337.2 L306.1,337.4 L307.0,337.5 L307.9,337.5 L308.8,337.5 L309.7,337.6 L310.6,337.6 L311.5,337.6 L312.4,337.7 L313.3,337.7 L314.2,337.7 L315.1,337.8 L316.0,337.8 L316.9,337.9 L317.8,337.9 L318.7,337.9 L319.6,338.0 L320.5,338.0 L321.4,338.0 L322.3,338.1 L323.2,338.1 L324.1,338.1 L325.0,338.2 L325.9,338.2 L326.0,338.2 L326.7,338.2 Z" fill="#df9f9f" stroke="#7a0c22" stroke-width="1.35" stroke-linejoin="round"/><path d="M199.0,349.7 L199.0,349.2 L199.9,349.2 L200.8,348.6 L201.7,348.0 L202.6,347.4 L203.5,347.1 L204.4,346.9 L205.3,346.6 L205.7,346.3 L206.2,346.3 L207.1,346.4 L208.0,345.6 L208.9,344.8 L209.5,344.4 L209.8,344.1 L210.7,342.8 L211.6,341.9 L212.5,341.3 L213.4,340.5 L214.3,339.9 L215.2,339.2 L216.1,338.4 L217.0,338.5 L217.2,338.6 L217.9,338.3 L218.8,339.2 L219.7,338.2 L220.6,337.1 L221.1,337.3 L221.5,336.8 L222.4,336.2 L223.3,336.7 L224.0,336.7 L224.2,336.9 L225.1,338.2 L226.0,338.5 L226.8,338.6 L226.9,338.7 L227.8,339.5 L228.7,339.7 L229.6,340.4 L229.7,340.5 L230.5,340.3 L231.4,340.4 L232.3,341.3 L232.6,341.5 L233.2,341.1 L234.1,340.8 L235.0,340.5 L235.9,339.2 L236.5,338.6 L236.8,338.3 L237.7,337.1 L238.6,336.0 L239.5,335.2 L240.3,334.8 L240.4,334.7 L241.3,334.2 L242.2,334.0 L243.1,333.7 L244.0,333.4 L244.2,333.4 L244.9,332.7 L245.8,332.4 L246.7,332.2 L247.0,331.9 L247.6,331.6 L248.5,331.0 L249.4,329.5 L249.9,329.0 L250.3,327.9 L251.2,324.4 L252.1,323.7 L252.8,324.2 L253.0,323.9 L253.9,323.2 L254.8,325.2 L255.7,328.0 L256.6,327.5 L257.5,327.8 L258.4,327.3 L258.6,327.1 L259.3,328.8 L260.2,330.5 L261.1,331.4 L261.5,331.9 L262.0,332.9 L262.9,334.0 L263.8,336.7 L264.3,337.7 L264.7,338.7 L265.6,340.6 L266.5,341.8 L267.2,343.4 L267.4,343.4 L268.3,343.6 L269.2,344.3 L270.1,345.3 L271.0,346.2 L271.1,346.3 L271.9,346.4 L272.8,346.6 L273.7,346.8 L274.6,347.0 L275.5,347.2 L276.4,347.4 L277.3,347.6 L278.2,348.0 L278.8,348.2 L279.1,348.2 L280.0,348.2 L280.9,348.1 L281.8,348.1 L282.7,348.2 L283.6,348.4 L284.5,348.7 L285.4,348.8 L286.3,348.8 L287.2,348.8 L288.1,348.8 L289.0,348.8 L289.9,348.9 L290.8,348.9 L291.7,349.0 L292.6,348.9 L293.5,349.0 L294.4,349.0 L295.3,349.1 L296.2,349.1 L297.1,349.1 L298.0,349.2 L298.9,349.2 L299.8,349.3 L300.0,349.3 L300.7,349.3 L301.6,349.3 L302.5,349.3 L303.4,349.4 L304.3,349.4 L305.2,349.4 L306.1,349.4 L307.0,349.4 L307.9,349.4 L308.8,349.4 L309.7,349.4 L310.6,349.5 L311.5,349.5 L312.4,349.5 L313.3,349.5 L314.2,349.5 L315.1,349.5 L316.0,349.5 L316.9,349.6 L317.8,349.6 L318.7,349.6 L319.6,349.6 L320.5,349.6 L321.4,349.6 L322.3,349.6 L323.2,349.7 L324.1,349.7 L325.0,349.7 L325.9,349.7 L326.0,349.7 L326.7,349.7 Z" fill="#b7d89e" stroke="#4f9230" stroke-width="1.35" stroke-linejoin="round"/><path d="M199.0,361.5 L199.0,360.9 L199.9,360.9 L200.8,360.2 L201.7,359.8 L202.6,359.8 L203.5,359.4 L204.4,358.8 L205.3,358.6 L205.7,358.6 L206.2,358.4 L207.1,358.4 L208.0,357.9 L208.9,357.5 L209.8,357.3 L210.7,356.8 L211.5,355.7 L211.6,355.7 L212.5,355.6 L213.4,354.9 L214.3,354.3 L215.2,353.8 L216.1,353.4 L217.0,353.7 L217.2,353.8 L217.9,353.6 L218.8,354.4 L219.7,353.9 L220.6,353.0 L221.5,352.5 L222.4,352.2 L223.0,351.9 L223.3,351.8 L224.2,351.4 L225.1,350.9 L226.0,351.0 L226.9,351.1 L227.8,350.9 L228.7,350.1 L228.8,350.0 L229.6,350.0 L230.5,349.3 L231.4,348.8 L232.3,348.8 L233.2,348.4 L233.6,348.0 L234.1,348.3 L235.0,349.4 L235.9,346.3 L236.8,343.2 L237.7,344.3 L238.4,345.1 L238.6,345.0 L239.5,344.8 L240.4,343.8 L241.3,343.5 L242.2,343.2 L243.1,344.8 L244.0,343.2 L244.9,340.7 L245.8,341.0 L246.1,341.3 L246.7,339.4 L247.6,337.3 L248.5,336.9 L249.0,336.5 L249.4,336.3 L250.3,336.9 L251.2,336.6 L251.8,335.5 L252.1,336.2 L253.0,338.5 L253.9,337.9 L254.7,337.5 L254.8,337.5 L255.7,337.5 L256.6,337.2 L257.5,336.5 L257.6,336.5 L258.4,337.4 L259.3,338.1 L260.2,340.5 L260.5,341.3 L261.1,341.7 L262.0,342.6 L262.9,344.2 L263.8,346.8 L264.3,348.0 L264.7,348.6 L265.6,350.0 L266.5,351.7 L267.4,353.2 L268.2,354.8 L268.3,354.8 L269.2,354.9 L270.1,355.6 L271.0,356.5 L271.9,357.4 L272.8,358.4 L273.0,358.6 L273.7,358.7 L274.6,359.1 L275.5,359.3 L276.4,359.4 L277.3,359.5 L278.2,359.4 L279.1,359.3 L280.0,359.4 L280.9,359.4 L281.8,359.8 L282.6,360.1 L282.7,360.1 L283.6,360.1 L284.5,360.1 L285.4,360.1 L286.3,360.1 L287.2,360.2 L288.1,360.5 L289.0,360.8 L289.9,360.7 L290.8,360.6 L291.7,360.6 L292.6,360.6 L293.5,360.7 L294.4,360.8 L295.3,360.8 L296.2,360.9 L297.1,360.9 L298.0,361.0 L298.9,361.0 L299.8,361.1 L300.0,361.1 L300.7,361.1 L301.6,361.1 L302.5,361.1 L303.4,361.2 L304.3,361.2 L305.2,361.2 L306.1,361.2 L307.0,361.2 L307.9,361.2 L308.8,361.2 L309.7,361.2 L310.6,361.3 L311.5,361.3 L312.4,361.3 L313.3,361.3 L314.2,361.3 L315.1,361.3 L316.0,361.3 L316.9,361.4 L317.8,361.4 L318.7,361.4 L319.6,361.4 L320.5,361.4 L321.4,361.4 L322.3,361.4 L323.2,361.5 L324.1,361.5 L325.0,361.5 L325.9,361.5 L326.0,361.5 L326.7,361.5 Z" fill="#b7d89e" stroke="#4f9230" stroke-width="1.35" stroke-linejoin="round"/><path d="M199.0,372.8 L199.0,372.5 L199.9,372.5 L200.8,372.4 L201.7,372.3 L202.6,372.2 L203.5,372.1 L204.4,371.9 L205.3,371.8 L206.2,371.7 L207.1,371.6 L208.0,371.6 L208.9,371.5 L209.5,371.3 L209.8,371.3 L210.7,371.4 L211.6,371.2 L212.5,370.9 L213.4,370.7 L214.3,370.6 L215.2,370.5 L216.1,370.2 L217.0,370.1 L217.2,370.1 L217.9,369.9 L218.8,369.9 L219.7,369.7 L220.6,369.4 L221.5,369.4 L222.4,369.6 L223.3,369.6 L224.2,369.1 L224.9,368.8 L225.1,368.7 L226.0,368.4 L226.9,368.0 L227.8,367.6 L228.7,367.3 L229.6,367.4 L230.5,366.7 L230.7,366.3 L231.4,366.8 L232.3,366.1 L233.2,364.7 L234.1,363.4 L234.5,363.0 L235.0,362.3 L235.9,361.4 L236.8,360.6 L237.7,358.7 L238.4,357.2 L238.6,357.1 L239.5,356.8 L240.4,357.0 L241.3,355.3 L242.2,355.0 L243.1,353.2 L244.0,354.2 L244.2,354.4 L244.9,351.7 L245.8,349.3 L246.7,348.9 L247.0,348.6 L247.6,347.7 L248.5,347.2 L249.4,346.9 L249.9,346.7 L250.3,347.2 L251.2,348.1 L252.1,349.7 L252.8,351.5 L253.0,351.0 L253.9,350.7 L254.8,351.2 L255.7,348.6 L256.6,348.1 L257.5,348.5 L258.4,351.2 L258.6,351.5 L259.3,352.0 L260.2,350.5 L261.1,351.9 L261.5,353.4 L262.0,353.7 L262.9,356.0 L263.8,359.1 L264.3,360.1 L264.7,361.6 L265.6,364.2 L266.5,365.3 L267.2,366.9 L267.4,366.9 L268.3,367.1 L269.2,367.5 L270.1,368.3 L271.0,369.0 L271.9,369.5 L272.8,369.7 L273.0,369.7 L273.7,370.0 L274.6,370.0 L275.5,370.2 L276.4,370.5 L277.3,370.7 L278.2,370.6 L279.1,370.6 L280.0,371.1 L280.9,371.5 L281.8,371.6 L282.6,371.7 L282.7,371.7 L283.6,371.7 L284.5,371.7 L285.4,371.8 L286.3,372.0 L287.2,372.1 L288.1,371.7 L289.0,371.4 L289.9,371.5 L290.8,371.7 L291.7,371.7 L292.6,371.6 L293.5,371.6 L294.4,371.5 L295.3,372.0 L296.2,372.0 L297.1,372.1 L298.0,372.1 L298.9,372.1 L299.8,372.1 L300.7,372.2 L301.6,372.2 L302.5,372.2 L303.4,372.2 L304.3,372.2 L305.2,372.3 L306.1,372.3 L307.0,372.3 L307.9,372.3 L308.8,372.4 L309.7,372.4 L310.6,372.4 L311.5,372.4 L312.4,372.5 L313.3,372.5 L314.2,372.5 L315.1,372.5 L316.0,372.5 L316.9,372.6 L317.8,372.6 L318.7,372.6 L319.6,372.6 L320.5,372.7 L321.4,372.7 L322.3,372.7 L323.2,372.7 L324.1,372.8 L325.0,372.8 L325.9,372.8 L326.0,372.8 L326.7,372.8 Z" fill="#b7d89e" stroke="#4f9230" stroke-width="1.35" stroke-linejoin="round"/><line x1="232.1" y1="250.3" x2="232.1" y2="372.9" stroke="#000" stroke-width="1.4" stroke-dasharray="2.4,2.3"/><line x1="245.6" y1="250.3" x2="245.6" y2="372.9" stroke="#000" stroke-width="1.4" stroke-dasharray="2.4,2.3"/><line x1="257.3" y1="250.3" x2="257.3" y2="372.9" stroke="#000" stroke-width="1.4" stroke-dasharray="2.4,2.3"/><line x1="266.7" y1="250.3" x2="266.7" y2="372.9" stroke="#000" stroke-width="1.4" stroke-dasharray="2.4,2.3"/></g>
<rect x="200" y="250.3" width="125.69999999999999" height="122.59999999999997" fill="none" stroke="#000" stroke-width="1.5"/>
<text x="262.7" y="237.3" font-size="7.7" text-anchor="middle" font-weight="bold" fill="#000" >Spleen</text>
<text x="201.6" y="248.6" font-size="7.9" text-anchor="start" font-weight="normal" fill="#444" style="stroke:#444;stroke-width:0.1px">GFP:</text>
<text x="227" y="248.6" font-size="7.7" text-anchor="middle" font-weight="normal" fill="#444" style="stroke:#444;stroke-width:0.1px">0</text>
<text x="238.6" y="248.6" font-size="7.7" text-anchor="middle" font-weight="normal" fill="#444" style="stroke:#444;stroke-width:0.1px">1</text>
<text x="249.5" y="248.6" font-size="7.7" text-anchor="middle" font-weight="normal" fill="#444" style="stroke:#444;stroke-width:0.1px">2</text>
<text x="260.7" y="248.6" font-size="7.7" text-anchor="middle" font-weight="normal" fill="#444" style="stroke:#444;stroke-width:0.1px">3</text>
<text x="272.5" y="248.6" font-size="7.7" text-anchor="middle" font-weight="normal" fill="#444" style="stroke:#444;stroke-width:0.1px">4</text>
<text x="320.3" y="278.7" font-size="8.2" text-anchor="end" font-weight="normal" fill="#333" >Control</text>
<text x="321.7" y="312.8" font-size="8.0" text-anchor="end" font-weight="normal" fill="#333" >3 Hours</text>
<text x="321.7" y="347.8" font-size="8.0" text-anchor="end" font-weight="normal" fill="#333" >2 Weeks</text>
<text transform="translate(192.8,311.6) rotate(-90)" font-size="9.2" text-anchor="middle" fill="#222">LSKCD48<tspan font-size="5.5" dy="-3">-</tspan></text>
<line x1="202.03" y1="373.59999999999997" x2="202.03" y2="375.9" stroke="#000" stroke-width="0.8"/>
<line x1="203.56" y1="373.59999999999997" x2="203.56" y2="375.9" stroke="#000" stroke-width="0.8"/>
<line x1="205.09" y1="373.59999999999997" x2="205.09" y2="375.9" stroke="#000" stroke-width="0.8"/>
<line x1="206.62" y1="373.59999999999997" x2="206.62" y2="375.9" stroke="#000" stroke-width="0.8"/>
<line x1="208.14" y1="373.59999999999997" x2="208.14" y2="375.9" stroke="#000" stroke-width="0.8"/>
<line x1="209.67" y1="373.59999999999997" x2="209.67" y2="375.9" stroke="#000" stroke-width="0.8"/>
<line x1="211.20" y1="373.59999999999997" x2="211.20" y2="375.9" stroke="#000" stroke-width="0.8"/>
<line x1="212.72" y1="373.59999999999997" x2="212.72" y2="375.9" stroke="#000" stroke-width="0.8"/>
<line x1="216.54" y1="373.59999999999997" x2="216.54" y2="375.9" stroke="#000" stroke-width="0.8"/>
<line x1="218.83" y1="373.59999999999997" x2="218.83" y2="375.9" stroke="#000" stroke-width="0.8"/>
<line x1="221.12" y1="373.59999999999997" x2="221.12" y2="375.9" stroke="#000" stroke-width="0.8"/>
<line x1="223.41" y1="373.59999999999997" x2="223.41" y2="375.9" stroke="#000" stroke-width="0.8"/>
<line x1="225.70" y1="373.59999999999997" x2="225.70" y2="375.9" stroke="#000" stroke-width="0.8"/>
<line x1="227.99" y1="373.59999999999997" x2="227.99" y2="375.9" stroke="#000" stroke-width="0.8"/>
<line x1="230.28" y1="373.59999999999997" x2="230.28" y2="375.9" stroke="#000" stroke-width="0.8"/>
<line x1="232.57" y1="373.59999999999997" x2="232.57" y2="375.9" stroke="#000" stroke-width="0.8"/>
<line x1="234.86" y1="373.59999999999997" x2="234.86" y2="375.9" stroke="#000" stroke-width="0.8"/>
<line x1="247.36" y1="373.59999999999997" x2="247.36" y2="375.9" stroke="#000" stroke-width="0.8"/>
<line x1="251.84" y1="373.59999999999997" x2="251.84" y2="375.9" stroke="#000" stroke-width="0.8"/>
<line x1="255.02" y1="373.59999999999997" x2="255.02" y2="375.9" stroke="#000" stroke-width="0.8"/>
<line x1="257.49" y1="373.59999999999997" x2="257.49" y2="375.9" stroke="#000" stroke-width="0.8"/>
<line x1="259.50" y1="373.59999999999997" x2="259.50" y2="375.9" stroke="#000" stroke-width="0.8"/>
<line x1="261.21" y1="373.59999999999997" x2="261.21" y2="375.9" stroke="#000" stroke-width="0.8"/>
<line x1="262.68" y1="373.59999999999997" x2="262.68" y2="375.9" stroke="#000" stroke-width="0.8"/>
<line x1="263.99" y1="373.59999999999997" x2="263.99" y2="375.9" stroke="#000" stroke-width="0.8"/>
<line x1="272.81" y1="373.59999999999997" x2="272.81" y2="375.9" stroke="#000" stroke-width="0.8"/>
<line x1="277.29" y1="373.59999999999997" x2="277.29" y2="375.9" stroke="#000" stroke-width="0.8"/>
<line x1="280.47" y1="373.59999999999997" x2="280.47" y2="375.9" stroke="#000" stroke-width="0.8"/>
<line x1="282.94" y1="373.59999999999997" x2="282.94" y2="375.9" stroke="#000" stroke-width="0.8"/>
<line x1="284.95" y1="373.59999999999997" x2="284.95" y2="375.9" stroke="#000" stroke-width="0.8"/>
<line x1="286.66" y1="373.59999999999997" x2="286.66" y2="375.9" stroke="#000" stroke-width="0.8"/>
<line x1="288.13" y1="373.59999999999997" x2="288.13" y2="375.9" stroke="#000" stroke-width="0.8"/>
<line x1="289.44" y1="373.59999999999997" x2="289.44" y2="375.9" stroke="#000" stroke-width="0.8"/>
<line x1="298.26" y1="373.59999999999997" x2="298.26" y2="375.9" stroke="#000" stroke-width="0.8"/>
<line x1="302.74" y1="373.59999999999997" x2="302.74" y2="375.9" stroke="#000" stroke-width="0.8"/>
<line x1="305.92" y1="373.59999999999997" x2="305.92" y2="375.9" stroke="#000" stroke-width="0.8"/>
<line x1="308.39" y1="373.59999999999997" x2="308.39" y2="375.9" stroke="#000" stroke-width="0.8"/>
<line x1="310.40" y1="373.59999999999997" x2="310.40" y2="375.9" stroke="#000" stroke-width="0.8"/>
<line x1="312.11" y1="373.59999999999997" x2="312.11" y2="375.9" stroke="#000" stroke-width="0.8"/>
<line x1="313.58" y1="373.59999999999997" x2="313.58" y2="375.9" stroke="#000" stroke-width="0.8"/>
<line x1="314.89" y1="373.59999999999997" x2="314.89" y2="375.9" stroke="#000" stroke-width="0.8"/>
<line x1="214.25" y1="373.59999999999997" x2="214.25" y2="376.99999999999994" stroke="#000" stroke-width="0.8"/>
<line x1="239.70" y1="373.59999999999997" x2="239.70" y2="376.99999999999994" stroke="#000" stroke-width="0.8"/>
<line x1="265.15" y1="373.59999999999997" x2="265.15" y2="376.99999999999994" stroke="#000" stroke-width="0.8"/>
<line x1="290.60" y1="373.59999999999997" x2="290.60" y2="376.99999999999994" stroke="#000" stroke-width="0.8"/>
<line x1="316.05" y1="373.59999999999997" x2="316.05" y2="376.99999999999994" stroke="#000" stroke-width="0.8"/>
<text x="214.25" y="386.9" font-size="8.4" text-anchor="middle" font-weight="normal" fill="#1a1a1a" >0</text>
<text x="239.85" y="386.9" font-size="8.4" text-anchor="middle" fill="#1a1a1a">10<tspan font-size="5.5" dy="-3.7">2</tspan></text>
<text x="265.25" y="386.9" font-size="8.4" text-anchor="middle" fill="#1a1a1a">10<tspan font-size="5.5" dy="-3.7">3</tspan></text>
<text x="290.65" y="386.9" font-size="8.4" text-anchor="middle" fill="#1a1a1a">10<tspan font-size="5.5" dy="-3.7">4</tspan></text>
<text x="316.05" y="386.9" font-size="8.4" text-anchor="middle" fill="#1a1a1a">10<tspan font-size="5.5" dy="-3.7">5</tspan></text>
<clipPath id="clip357"><rect x="357.1" y="250.3" width="125.29999999999995" height="122.5"/></clipPath>
<g clip-path="url(#clip357)"><path d="M356.1,279.7 L356.1,274.4 L357.0,274.6 L357.5,274.9 L357.9,274.2 L358.8,272.7 L359.7,272.9 L359.8,272.9 L360.6,272.4 L361.5,272.7 L362.4,273.7 L362.7,273.9 L363.3,273.2 L364.2,272.5 L365.1,271.3 L365.6,271.0 L366.0,270.1 L366.9,268.5 L367.8,267.9 L368.5,267.2 L368.7,266.9 L369.6,265.2 L370.5,264.6 L371.3,264.3 L371.4,264.3 L372.3,265.1 L373.2,265.0 L374.1,265.1 L374.2,265.2 L375.0,262.7 L375.9,260.4 L376.5,259.5 L376.8,258.5 L377.7,256.0 L378.5,254.3 L378.6,254.7 L379.5,258.4 L380.4,261.4 L381.3,262.6 L382.2,263.5 L382.9,264.3 L383.1,264.2 L384.0,264.1 L384.8,262.4 L384.9,262.8 L385.8,265.3 L386.7,268.1 L387.6,269.0 L388.5,270.3 L389.4,271.7 L389.6,272.0 L390.3,272.2 L391.2,272.3 L392.1,272.5 L393.0,272.7 L393.5,272.9 L393.9,272.9 L394.8,273.1 L395.7,273.6 L396.6,273.9 L397.3,273.9 L397.5,273.9 L398.4,274.1 L399.3,273.5 L400.2,272.0 L401.1,270.9 L402.0,268.6 L402.7,266.6 L402.9,267.1 L403.8,269.1 L404.6,270.1 L404.7,270.2 L405.6,270.8 L406.5,270.9 L406.9,271.0 L407.4,270.4 L408.3,269.2 L409.2,268.5 L409.8,268.1 L410.1,267.6 L411.0,265.9 L411.9,264.7 L412.3,264.3 L412.8,263.4 L413.7,262.2 L414.2,261.4 L414.6,262.1 L415.5,262.7 L416.4,266.7 L416.5,267.2 L417.3,267.9 L418.2,270.1 L419.1,271.4 L419.4,272.0 L420.0,272.5 L420.9,274.0 L421.8,275.9 L422.3,276.8 L422.7,277.1 L423.6,277.6 L424.5,278.2 L425.4,278.9 L426.2,279.5 L426.3,279.5 L427.2,279.5 L428.1,279.5 L429.0,279.5 L429.9,279.5 L430.8,279.5 L431.7,279.5 L432.6,279.5 L433.5,279.5 L434.4,279.5 L435.3,279.5 L436.2,279.5 L437.1,279.5 L438.0,279.5 L438.9,279.5 L439.8,279.5 L440.7,279.6 L441.6,279.6 L442.5,279.6 L443.4,279.6 L444.3,279.6 L445.2,279.6 L446.1,279.6 L447.0,279.6 L447.9,279.6 L448.8,279.6 L449.7,279.6 L450.6,279.6 L451.5,279.6 L452.4,279.6 L453.3,279.6 L454.2,279.6 L455.1,279.6 L456.0,279.6 L456.9,279.6 L457.8,279.6 L458.7,279.6 L459.6,279.6 L460.5,279.6 L461.4,279.6 L462.3,279.6 L463.2,279.6 L464.1,279.6 L465.0,279.6 L465.9,279.6 L466.8,279.6 L467.7,279.6 L468.6,279.6 L469.5,279.7 L470.4,279.7 L471.3,279.7 L472.2,279.7 L473.1,279.7 L474.0,279.7 L474.9,279.7 L475.8,279.7 L476.7,279.7 L477.6,279.7 L478.5,279.7 L479.4,279.7 L480.3,279.7 L481.2,279.7 L482.1,279.7 L483.0,279.7 L483.4,279.7 Z" fill="#8892bc" stroke="#222f66" stroke-width="1.35" stroke-linejoin="round"/><path d="M356.1,291.4 L356.1,288.1 L357.0,288.1 L357.5,288.1 L357.9,288.0 L358.8,287.4 L359.7,287.2 L359.8,287.2 L360.6,287.0 L361.5,287.7 L362.4,288.2 L363.3,288.0 L363.7,288.1 L364.2,287.5 L365.1,286.4 L366.0,285.6 L366.5,285.2 L366.9,283.7 L367.8,281.1 L368.7,277.3 L369.4,273.7 L369.6,273.2 L370.5,270.4 L371.4,267.3 L371.9,266.0 L372.3,266.5 L373.2,267.4 L374.1,271.3 L374.2,271.8 L375.0,274.4 L375.9,279.0 L376.5,281.4 L376.8,281.2 L377.7,281.1 L378.6,278.6 L379.0,277.5 L379.5,276.7 L380.4,274.9 L381.3,273.6 L381.9,271.8 L382.2,272.2 L383.1,271.1 L383.8,270.8 L384.0,270.8 L384.9,271.9 L385.8,274.7 L386.7,277.3 L387.6,279.7 L388.5,282.6 L388.7,283.3 L389.4,283.6 L390.3,284.0 L391.2,284.2 L392.1,284.8 L392.5,285.2 L393.0,284.8 L393.9,284.0 L394.8,284.0 L395.7,284.3 L396.3,284.3 L396.6,283.7 L397.5,281.6 L398.4,280.4 L399.2,279.5 L399.3,279.7 L400.2,282.2 L401.1,282.8 L402.0,283.2 L402.1,283.3 L402.9,284.2 L403.8,285.5 L404.7,284.5 L405.0,284.3 L405.6,283.9 L406.5,282.7 L407.4,282.6 L407.9,282.4 L408.3,282.5 L409.2,282.6 L410.1,283.0 L410.8,283.3 L411.0,283.3 L411.9,282.8 L412.8,283.7 L413.7,284.3 L414.6,283.6 L415.5,282.6 L416.4,280.6 L416.5,280.4 L417.3,282.4 L418.2,284.0 L419.1,286.5 L419.4,287.2 L420.0,288.6 L420.9,290.4 L421.3,291.0 L421.8,291.0 L422.7,291.0 L423.6,291.0 L424.5,291.0 L425.4,291.0 L426.3,291.0 L427.2,291.0 L428.1,291.0 L429.0,291.0 L429.9,291.1 L430.8,291.1 L431.7,291.1 L432.6,291.1 L433.5,291.1 L434.4,291.1 L435.3,291.1 L436.2,291.1 L437.1,291.1 L438.0,291.1 L438.9,291.1 L439.8,291.1 L440.7,291.1 L441.6,291.1 L442.5,291.1 L443.4,291.1 L444.3,291.1 L445.2,291.2 L446.1,291.2 L447.0,291.2 L447.9,291.2 L448.8,291.2 L449.7,291.2 L450.6,291.2 L451.5,291.2 L452.4,291.2 L453.3,291.2 L454.2,291.2 L455.1,291.2 L456.0,291.2 L456.9,291.2 L457.8,291.2 L458.7,291.2 L459.6,291.2 L460.5,291.3 L461.4,291.3 L462.3,291.3 L463.2,291.3 L464.1,291.3 L465.0,291.3 L465.9,291.3 L466.8,291.3 L467.7,291.3 L468.6,291.3 L469.5,291.3 L470.4,291.3 L471.3,291.3 L472.2,291.3 L473.1,291.3 L474.0,291.3 L474.9,291.3 L475.8,291.4 L476.7,291.4 L477.6,291.4 L478.5,291.4 L479.4,291.4 L480.3,291.4 L481.2,291.4 L482.1,291.4 L483.0,291.4 L483.4,291.4 Z" fill="#8892bc" stroke="#222f66" stroke-width="1.35" stroke-linejoin="round"/><path d="M356.1,303.3 L356.1,299.7 L357.0,299.5 L357.5,299.5 L357.9,298.9 L358.8,297.9 L359.7,296.8 L359.8,296.6 L360.6,296.0 L361.5,294.8 L362.4,291.7 L362.7,290.8 L363.3,289.1 L364.2,285.2 L365.1,283.4 L365.6,282.2 L366.0,281.2 L366.9,278.3 L367.5,277.3 L367.8,277.4 L368.7,278.1 L369.6,281.8 L370.4,284.1 L370.5,284.3 L371.4,285.8 L372.3,287.9 L373.2,291.5 L373.3,291.8 L374.1,292.9 L375.0,295.0 L375.9,296.3 L376.2,296.6 L376.8,296.2 L377.7,295.2 L378.6,293.4 L379.0,292.7 L379.5,291.8 L380.4,290.2 L381.3,288.6 L381.9,287.0 L382.2,287.9 L383.1,289.6 L384.0,290.8 L384.8,292.7 L384.9,292.9 L385.8,295.0 L386.7,297.1 L387.6,299.2 L387.7,299.5 L388.5,299.8 L389.4,300.1 L390.3,300.6 L391.2,301.8 L391.5,302.0 L392.1,302.1 L393.0,302.1 L393.9,302.1 L394.8,302.2 L395.7,302.4 L396.6,302.4 L397.3,302.3 L397.5,302.3 L398.4,302.2 L399.3,302.0 L400.2,301.9 L401.1,302.0 L401.2,302.0 L402.0,301.1 L402.9,299.5 L403.8,297.4 L404.7,296.5 L405.0,296.2 L405.6,296.8 L406.5,298.1 L407.4,299.1 L407.9,299.5 L408.3,300.0 L409.2,301.1 L410.1,301.7 L410.8,302.0 L411.0,302.1 L411.9,302.2 L412.8,302.2 L413.7,302.2 L414.6,302.3 L415.5,302.4 L416.4,302.5 L417.3,302.3 L418.2,302.1 L419.1,302.3 L420.0,302.5 L420.9,302.6 L421.8,302.6 L422.7,302.6 L423.6,302.6 L424.5,302.4 L425.4,302.2 L426.3,302.1 L427.2,302.4 L428.1,302.6 L429.0,302.5 L429.9,302.5 L430.8,302.5 L431.7,302.6 L432.6,302.6 L433.5,302.6 L434.4,302.6 L435.3,302.6 L436.2,302.6 L437.1,302.6 L438.0,302.6 L438.9,302.7 L439.8,302.7 L440.7,302.7 L441.6,302.7 L442.5,302.7 L443.4,302.7 L444.3,302.7 L445.2,302.7 L446.1,302.8 L447.0,302.8 L447.9,302.8 L448.8,302.8 L449.7,302.8 L450.6,302.8 L451.5,302.8 L452.4,302.9 L453.3,302.9 L454.2,302.9 L455.1,302.9 L456.0,302.9 L456.9,302.9 L457.8,302.9 L458.7,302.9 L459.6,303.0 L460.5,303.0 L461.4,303.0 L462.3,303.0 L463.2,303.0 L464.1,303.0 L465.0,303.0 L465.9,303.1 L466.8,303.1 L467.7,303.1 L468.6,303.1 L469.5,303.1 L470.4,303.1 L471.3,303.1 L472.2,303.1 L473.1,303.2 L474.0,303.2 L474.9,303.2 L475.8,303.2 L476.7,303.2 L477.6,303.2 L478.5,303.2 L479.4,303.2 L480.3,303.3 L481.2,303.3 L482.1,303.3 L483.0,303.3 L483.4,303.3 Z" fill="#8892bc" stroke="#222f66" stroke-width="1.35" stroke-linejoin="round"/><path d="M356.1,314.9 L356.1,314.6 L357.0,314.6 L357.5,314.6 L357.9,314.6 L358.8,314.6 L359.7,314.6 L360.6,314.6 L361.5,314.6 L362.4,314.6 L363.3,314.6 L364.2,314.6 L365.1,314.6 L366.0,314.6 L366.9,314.6 L367.8,314.6 L368.7,314.6 L369.6,314.5 L370.5,314.5 L371.4,314.5 L372.3,314.5 L373.2,314.5 L374.1,314.5 L375.0,314.5 L375.9,314.5 L376.8,314.5 L377.7,314.5 L378.6,314.5 L379.5,314.5 L380.0,314.5 L380.4,314.5 L381.3,314.5 L382.2,314.5 L383.1,314.4 L384.0,314.4 L384.9,314.4 L385.8,314.4 L386.7,314.4 L387.6,314.3 L388.5,314.3 L389.4,314.3 L390.3,314.3 L391.2,314.3 L392.1,314.3 L393.0,314.2 L393.9,314.2 L394.8,314.2 L395.7,314.2 L396.6,314.2 L397.5,314.1 L398.4,314.1 L399.3,314.1 L400.0,314.1 L400.2,314.1 L401.1,314.1 L402.0,313.9 L402.9,313.7 L403.8,313.5 L404.7,313.4 L405.6,313.2 L406.5,313.2 L407.4,313.3 L408.3,313.4 L409.2,313.1 L410.0,312.8 L410.1,312.7 L411.0,312.4 L411.9,312.1 L412.8,311.6 L413.7,310.6 L414.0,310.3 L414.6,309.4 L415.5,308.3 L416.4,305.6 L416.5,305.3 L417.3,302.9 L418.2,299.1 L419.0,297.3 L419.1,297.0 L420.0,294.6 L420.9,291.6 L421.0,291.3 L421.8,289.3 L422.3,289.0 L422.7,288.7 L423.6,290.3 L424.5,291.5 L425.4,295.1 L425.5,295.3 L426.3,299.1 L427.2,301.9 L427.5,303.3 L428.1,304.3 L429.0,307.9 L429.5,309.8 L429.9,310.4 L430.8,311.8 L431.7,312.9 L432.0,313.3 L432.6,313.5 L433.5,313.7 L434.4,313.9 L435.3,314.3 L436.0,314.5 L436.2,314.5 L437.1,314.5 L438.0,314.5 L438.9,314.5 L439.8,314.5 L440.7,314.5 L441.6,314.5 L442.5,314.6 L443.4,314.6 L444.3,314.6 L445.2,314.6 L446.1,314.6 L447.0,314.6 L447.9,314.6 L448.8,314.6 L449.7,314.6 L450.6,314.6 L451.5,314.6 L452.4,314.6 L453.3,314.6 L454.2,314.7 L455.1,314.7 L456.0,314.7 L456.9,314.7 L457.8,314.7 L458.7,314.7 L459.6,314.7 L460.5,314.7 L461.4,314.7 L462.3,314.7 L463.2,314.7 L464.1,314.7 L465.0,314.7 L465.9,314.8 L466.8,314.8 L467.7,314.8 L468.6,314.8 L469.5,314.8 L470.4,314.8 L471.3,314.8 L472.2,314.8 L473.1,314.8 L474.0,314.8 L474.9,314.8 L475.8,314.8 L476.7,314.8 L477.6,314.9 L478.5,314.9 L479.4,314.9 L480.3,314.9 L481.2,314.9 L482.1,314.9 L483.0,314.9 L483.4,314.9 Z" fill="#df9f9f" stroke="#7a0c22" stroke-width="1.35" stroke-linejoin="round"/><path d="M356.1,326.5 L356.1,326.2 L357.0,326.2 L357.5,326.2 L357.9,326.2 L358.8,326.2 L359.7,326.2 L360.6,326.2 L361.5,326.2 L362.4,326.2 L363.3,326.2 L364.2,326.2 L365.1,326.2 L366.0,326.2 L366.9,326.2 L367.8,326.2 L368.7,326.2 L369.6,326.1 L370.5,326.1 L371.4,326.1 L372.3,326.1 L373.2,326.1 L374.1,326.1 L375.0,326.1 L375.9,326.1 L376.8,326.1 L377.7,326.1 L378.6,326.1 L379.5,326.1 L380.0,326.1 L380.4,326.1 L381.3,326.1 L382.2,326.0 L383.1,326.0 L384.0,326.0 L384.9,326.0 L385.8,326.0 L386.7,325.9 L387.6,325.9 L388.5,325.9 L389.4,325.9 L390.3,325.8 L391.2,325.8 L392.1,325.8 L393.0,325.8 L393.9,325.8 L394.8,325.7 L395.7,325.7 L396.6,325.4 L397.5,325.4 L398.4,325.5 L399.3,325.6 L400.0,325.6 L400.2,325.6 L401.1,325.4 L402.0,325.3 L402.9,325.1 L403.8,324.9 L404.7,324.8 L405.6,324.7 L406.5,324.6 L407.4,324.5 L408.3,324.4 L409.2,324.2 L410.0,324.1 L410.1,324.0 L411.0,323.2 L411.9,322.5 L412.8,322.1 L413.7,321.6 L414.0,321.3 L414.6,320.3 L415.5,318.7 L416.4,316.5 L416.5,316.3 L417.3,314.0 L418.2,310.9 L419.0,308.3 L419.1,307.9 L420.0,303.8 L420.9,301.6 L421.0,301.3 L421.8,299.7 L422.3,298.6 L422.7,299.6 L423.6,300.3 L424.5,305.4 L425.4,306.1 L425.5,306.3 L426.3,310.0 L427.2,313.3 L427.5,314.3 L428.1,316.9 L429.0,319.8 L429.5,321.3 L429.9,322.0 L430.8,323.2 L431.7,324.4 L432.0,324.9 L432.6,324.9 L433.5,325.1 L434.4,325.5 L435.3,325.9 L436.0,326.1 L436.2,326.1 L437.1,326.1 L438.0,326.1 L438.9,326.1 L439.8,326.1 L440.7,326.1 L441.6,326.1 L442.5,326.2 L443.4,326.2 L444.3,326.2 L445.2,326.2 L446.1,326.2 L447.0,326.2 L447.9,326.2 L448.8,326.2 L449.7,326.2 L450.6,326.2 L451.5,326.2 L452.4,326.2 L453.3,326.2 L454.2,326.3 L455.1,326.3 L456.0,326.3 L456.9,326.3 L457.8,326.3 L458.7,326.3 L459.6,326.3 L460.5,326.3 L461.4,326.3 L462.3,326.3 L463.2,326.3 L464.1,326.3 L465.0,326.3 L465.9,326.4 L466.8,326.4 L467.7,326.4 L468.6,326.4 L469.5,326.4 L470.4,326.4 L471.3,326.4 L472.2,326.4 L473.1,326.4 L474.0,326.4 L474.9,326.4 L475.8,326.4 L476.7,326.4 L477.6,326.5 L478.5,326.5 L479.4,326.5 L480.3,326.5 L481.2,326.5 L482.1,326.5 L483.0,326.5 L483.4,326.5 Z" fill="#df9f9f" stroke="#7a0c22" stroke-width="1.35" stroke-linejoin="round"/><path d="M356.1,338.2 L356.1,337.9 L357.0,337.9 L357.5,337.9 L357.9,337.9 L358.8,337.9 L359.7,337.9 L360.6,337.9 L361.5,337.9 L362.4,337.9 L363.3,337.9 L364.2,337.9 L365.1,337.9 L366.0,337.9 L366.9,337.9 L367.8,337.9 L368.7,337.9 L369.6,337.8 L370.5,337.8 L371.4,337.8 L372.3,337.8 L373.2,337.8 L374.1,337.8 L375.0,337.8 L375.9,337.8 L376.8,337.8 L377.7,337.8 L378.6,337.8 L379.5,337.8 L380.0,337.8 L380.4,337.8 L381.3,337.8 L382.2,337.8 L383.1,337.7 L384.0,337.7 L384.9,337.7 L385.8,337.7 L386.7,337.7 L387.6,337.6 L388.5,337.6 L389.4,337.6 L390.3,337.6 L391.2,337.6 L392.1,337.6 L393.0,337.5 L393.9,337.5 L394.8,337.5 L395.7,337.5 L396.6,337.5 L397.5,337.4 L398.4,337.4 L399.3,337.4 L400.0,337.4 L400.2,337.3 L401.1,337.1 L402.0,337.0 L402.9,336.7 L403.8,336.4 L404.7,336.1 L405.6,336.0 L406.5,335.9 L407.4,335.9 L408.3,336.0 L409.2,335.8 L410.0,335.8 L410.1,335.7 L411.0,335.1 L411.9,334.9 L412.8,334.1 L413.7,332.9 L414.0,332.6 L414.6,331.4 L415.5,329.4 L416.4,327.8 L416.5,327.6 L417.3,325.8 L418.2,323.8 L419.0,319.6 L419.1,319.3 L420.0,314.1 L420.9,312.8 L421.0,312.6 L421.8,310.2 L422.3,309.6 L422.7,310.1 L423.6,311.6 L424.5,315.5 L425.4,317.4 L425.5,317.6 L426.3,321.8 L427.2,324.4 L427.5,325.6 L428.1,327.1 L429.0,330.4 L429.5,332.6 L429.9,333.0 L430.8,334.4 L431.7,336.1 L432.0,336.6 L432.6,336.8 L433.5,337.0 L434.4,337.2 L435.3,337.6 L436.0,337.8 L436.2,337.8 L437.1,337.8 L438.0,337.8 L438.9,337.8 L439.8,337.8 L440.7,337.8 L441.6,337.8 L442.5,337.9 L443.4,337.9 L444.3,337.9 L445.2,337.9 L446.1,337.9 L447.0,337.9 L447.9,337.9 L448.8,337.9 L449.7,337.9 L450.6,337.9 L451.5,337.9 L452.4,337.9 L453.3,337.9 L454.2,338.0 L455.1,338.0 L456.0,338.0 L456.9,338.0 L457.8,338.0 L458.7,338.0 L459.6,338.0 L460.5,338.0 L461.4,338.0 L462.3,338.0 L463.2,338.0 L464.1,338.0 L465.0,338.0 L465.9,338.1 L466.8,338.1 L467.7,338.1 L468.6,338.1 L469.5,338.1 L470.4,338.1 L471.3,338.1 L472.2,338.1 L473.1,338.1 L474.0,338.1 L474.9,338.1 L475.8,338.1 L476.7,338.1 L477.6,338.2 L478.5,338.2 L479.4,338.2 L480.3,338.2 L481.2,338.2 L482.1,338.2 L483.0,338.2 L483.4,338.2 Z" fill="#df9f9f" stroke="#7a0c22" stroke-width="1.35" stroke-linejoin="round"/><path d="M356.1,349.7 L356.1,344.5 L357.0,345.1 L357.5,345.3 L357.9,344.9 L358.8,344.0 L359.7,343.4 L359.8,343.4 L360.6,343.6 L361.5,344.1 L362.4,344.6 L363.3,345.1 L363.7,345.3 L364.2,344.9 L365.1,344.2 L366.0,343.6 L366.5,343.4 L366.9,342.3 L367.8,339.9 L368.7,337.8 L369.6,335.7 L370.4,333.8 L370.5,334.1 L371.4,337.0 L372.3,339.4 L373.2,341.2 L373.3,341.5 L374.1,336.6 L375.0,331.8 L375.8,328.0 L375.9,327.7 L376.8,325.8 L377.7,323.8 L378.6,327.0 L379.5,329.9 L380.0,331.9 L380.4,332.3 L381.3,333.2 L382.2,335.5 L382.9,337.7 L383.1,338.0 L384.0,340.1 L384.9,342.1 L385.8,343.4 L386.7,343.0 L387.6,341.8 L388.5,340.7 L388.7,340.5 L389.4,341.7 L390.3,343.3 L391.2,344.8 L391.5,345.3 L392.1,345.2 L393.0,345.0 L393.9,344.9 L394.8,345.1 L395.4,345.3 L395.7,345.4 L396.6,345.8 L397.5,346.5 L398.4,347.1 L399.2,347.3 L399.3,347.2 L400.2,346.9 L401.1,345.9 L402.0,344.7 L402.9,343.6 L403.1,343.4 L403.8,342.5 L404.7,341.5 L405.4,340.5 L405.6,340.9 L406.5,342.8 L407.4,344.3 L408.3,345.6 L408.8,346.3 L409.2,346.5 L410.1,346.9 L411.0,346.7 L411.9,346.8 L412.7,347.3 L412.8,347.3 L413.7,347.3 L414.6,347.6 L415.5,347.9 L416.4,348.2 L416.5,348.2 L417.3,348.3 L418.2,348.4 L419.1,348.5 L420.0,348.6 L420.9,349.0 L421.8,349.1 L422.3,349.2 L422.7,349.2 L423.6,349.2 L424.5,349.2 L425.4,349.2 L426.3,349.2 L427.2,349.2 L428.1,349.2 L429.0,349.3 L429.9,349.3 L430.8,349.3 L431.7,349.3 L432.6,349.3 L433.5,349.3 L434.4,349.3 L435.3,349.3 L436.2,349.3 L437.1,349.3 L438.0,349.3 L438.9,349.3 L439.8,349.3 L440.7,349.4 L441.6,349.4 L442.5,349.4 L443.4,349.4 L444.3,349.4 L445.2,349.4 L446.1,349.4 L447.0,349.4 L447.9,349.4 L448.8,349.4 L449.7,349.4 L450.6,349.4 L451.5,349.4 L452.4,349.4 L453.3,349.5 L454.2,349.5 L455.1,349.5 L456.0,349.5 L456.9,349.5 L457.8,349.5 L458.7,349.5 L459.6,349.5 L460.5,349.5 L461.4,349.5 L462.3,349.5 L463.2,349.5 L464.1,349.5 L465.0,349.6 L465.9,349.6 L466.8,349.6 L467.7,349.6 L468.6,349.6 L469.5,349.6 L470.4,349.6 L471.3,349.6 L472.2,349.6 L473.1,349.6 L474.0,349.6 L474.9,349.6 L475.8,349.6 L476.7,349.6 L477.6,349.7 L478.5,349.7 L479.4,349.7 L480.3,349.7 L481.2,349.7 L482.1,349.7 L483.0,349.7 L483.4,349.7 Z" fill="#b7d89e" stroke="#4f9230" stroke-width="1.35" stroke-linejoin="round"/><path d="M356.1,361.5 L356.1,358.0 L357.0,357.7 L357.5,357.6 L357.9,357.2 L358.8,356.4 L359.7,356.0 L360.6,355.0 L360.8,354.8 L361.5,353.8 L362.4,352.4 L363.3,351.3 L364.2,350.4 L364.6,350.0 L365.1,348.6 L366.0,346.1 L366.9,343.4 L367.5,342.3 L367.8,340.7 L368.7,336.7 L369.4,335.5 L369.6,335.9 L370.5,338.2 L371.4,343.0 L372.3,347.1 L373.2,345.1 L374.1,342.9 L375.0,341.5 L375.2,341.3 L375.9,337.9 L376.8,335.4 L377.7,333.6 L378.6,337.6 L379.5,341.4 L380.0,343.2 L380.4,344.3 L381.3,346.3 L382.2,348.1 L382.9,350.0 L383.1,350.1 L384.0,349.9 L384.9,351.5 L385.8,352.8 L386.7,354.0 L387.6,354.9 L388.5,356.0 L389.4,357.3 L389.6,357.6 L390.3,357.2 L391.2,356.4 L392.1,355.5 L393.0,355.2 L393.5,354.8 L393.9,354.8 L394.8,355.3 L395.7,355.5 L396.6,354.2 L397.3,352.8 L397.5,352.9 L398.4,352.6 L399.3,352.2 L400.2,351.9 L401.1,351.9 L401.2,351.9 L402.0,352.5 L402.9,352.6 L403.8,352.6 L404.7,353.5 L405.0,353.8 L405.6,353.0 L406.5,352.0 L407.4,350.9 L408.3,350.3 L408.8,350.0 L409.2,349.8 L410.1,350.3 L411.0,348.6 L411.7,347.1 L411.9,347.5 L412.8,349.4 L413.7,350.4 L414.6,350.0 L415.5,352.0 L416.4,353.0 L417.3,353.6 L417.5,353.8 L418.2,354.6 L419.1,355.9 L420.0,357.2 L420.9,358.2 L421.3,358.6 L421.8,359.1 L422.7,359.8 L423.6,360.4 L424.2,360.9 L424.5,360.9 L425.4,360.9 L426.3,360.9 L427.2,360.9 L428.1,360.9 L429.0,360.9 L429.9,361.0 L430.8,361.0 L431.7,361.0 L432.6,361.0 L433.5,361.0 L434.4,361.0 L435.3,361.0 L436.2,361.0 L437.1,361.0 L438.0,361.0 L438.9,361.1 L439.8,361.1 L440.7,361.1 L441.6,361.1 L442.5,361.1 L443.4,361.1 L444.3,361.1 L445.2,361.1 L446.1,361.1 L447.0,361.1 L447.9,361.1 L448.8,361.2 L449.7,361.2 L450.6,361.2 L451.5,361.2 L452.4,361.2 L453.3,361.2 L454.2,361.2 L455.1,361.2 L456.0,361.2 L456.9,361.2 L457.8,361.2 L458.7,361.3 L459.6,361.3 L460.5,361.3 L461.4,361.3 L462.3,361.3 L463.2,361.3 L464.1,361.3 L465.0,361.3 L465.9,361.3 L466.8,361.3 L467.7,361.3 L468.6,361.4 L469.5,361.4 L470.4,361.4 L471.3,361.4 L472.2,361.4 L473.1,361.4 L474.0,361.4 L474.9,361.4 L475.8,361.4 L476.7,361.4 L477.6,361.4 L478.5,361.5 L479.4,361.5 L480.3,361.5 L481.2,361.5 L482.1,361.5 L483.0,361.5 L483.4,361.5 Z" fill="#b7d89e" stroke="#4f9230" stroke-width="1.35" stroke-linejoin="round"/><path d="M356.1,372.8 L356.1,369.4 L357.0,369.7 L357.5,369.7 L357.9,369.7 L358.8,369.8 L359.7,369.3 L360.6,368.9 L360.8,368.8 L361.5,368.1 L362.4,367.1 L363.3,366.3 L364.2,365.4 L364.6,364.9 L365.1,363.1 L366.0,359.6 L366.5,357.2 L366.9,355.0 L367.8,349.4 L368.5,344.7 L368.7,345.0 L369.6,346.5 L370.5,347.1 L371.3,347.6 L371.4,347.8 L372.3,349.1 L373.2,351.2 L374.1,352.3 L374.2,352.4 L375.0,351.6 L375.9,350.3 L376.8,347.5 L377.1,346.7 L377.7,349.6 L378.6,353.5 L379.0,355.3 L379.5,355.4 L380.4,355.9 L381.0,356.3 L381.3,357.3 L382.2,361.1 L383.1,363.1 L383.8,364.0 L384.0,364.5 L384.9,366.0 L385.8,366.0 L386.7,366.7 L387.6,367.7 L387.7,367.8 L388.5,367.0 L389.4,366.1 L390.3,365.3 L391.2,364.8 L392.1,364.4 L392.5,364.0 L393.0,363.2 L393.9,361.7 L394.4,361.1 L394.8,359.4 L395.7,356.0 L396.3,353.4 L396.6,353.1 L397.5,351.5 L398.4,350.4 L399.2,350.5 L399.3,350.5 L400.2,350.8 L401.1,352.2 L402.0,354.2 L402.1,354.4 L402.9,357.3 L403.8,361.3 L404.7,363.0 L405.0,364.0 L405.6,363.9 L406.5,363.9 L407.4,365.6 L408.3,367.2 L408.8,367.8 L409.2,367.7 L410.1,367.8 L411.0,367.4 L411.9,367.0 L412.7,366.9 L412.8,366.8 L413.7,366.6 L414.6,365.8 L415.5,364.2 L416.4,364.0 L416.5,364.0 L417.3,364.3 L418.2,365.3 L419.1,366.6 L419.4,366.9 L420.0,368.0 L420.9,368.8 L421.8,369.8 L422.3,370.7 L422.7,370.6 L423.6,370.6 L424.5,371.1 L425.4,371.7 L426.3,372.2 L427.2,372.2 L428.0,372.5 L428.1,372.5 L429.0,372.5 L429.9,372.5 L430.8,372.5 L431.7,372.5 L432.6,372.5 L433.5,372.5 L434.4,372.5 L435.3,372.5 L436.2,372.5 L437.1,372.5 L438.0,372.5 L438.9,372.5 L439.8,372.5 L440.7,372.5 L441.6,372.5 L442.5,372.5 L443.4,372.5 L444.3,372.6 L445.2,372.6 L446.1,372.6 L447.0,372.6 L447.9,372.6 L448.8,372.6 L449.7,372.6 L450.6,372.6 L451.5,372.6 L452.4,372.6 L453.3,372.6 L454.2,372.6 L455.1,372.6 L456.0,372.6 L456.9,372.6 L457.8,372.6 L458.7,372.6 L459.6,372.6 L460.0,372.6 L460.5,372.3 L461.4,372.2 L462.3,371.9 L463.2,371.1 L464.0,370.4 L464.1,370.5 L465.0,371.2 L465.9,371.6 L466.8,372.1 L467.7,372.4 L468.0,372.6 L468.6,372.6 L469.5,372.6 L470.4,372.6 L471.3,372.6 L472.2,372.7 L473.1,372.7 L474.0,372.7 L474.9,372.7 L475.8,372.7 L476.7,372.7 L477.6,372.7 L478.5,372.7 L479.4,372.8 L480.3,372.8 L481.2,372.8 L482.1,372.8 L483.0,372.8 L483.4,372.8 Z" fill="#b7d89e" stroke="#4f9230" stroke-width="1.35" stroke-linejoin="round"/><line x1="389" y1="250.3" x2="389" y2="372.8" stroke="#000" stroke-width="1.4" stroke-dasharray="2.4,2.3"/><line x1="402" y1="250.3" x2="402" y2="372.8" stroke="#000" stroke-width="1.4" stroke-dasharray="2.4,2.3"/><line x1="413.6" y1="250.3" x2="413.6" y2="372.8" stroke="#000" stroke-width="1.4" stroke-dasharray="2.4,2.3"/><line x1="423.2" y1="250.3" x2="423.2" y2="372.8" stroke="#000" stroke-width="1.4" stroke-dasharray="2.4,2.3"/></g>
<rect x="357.1" y="250.3" width="125.29999999999995" height="122.5" fill="none" stroke="#000" stroke-width="1.5"/>
<text x="419.9" y="237.3" font-size="7.7" text-anchor="middle" font-weight="bold" fill="#000" >Blood</text>
<text x="358.7" y="248.6" font-size="7.9" text-anchor="start" font-weight="normal" fill="#444" style="stroke:#444;stroke-width:0.1px">GFP:</text>
<text x="384.6" y="248.6" font-size="7.7" text-anchor="middle" font-weight="normal" fill="#444" style="stroke:#444;stroke-width:0.1px">0</text>
<text x="395.8" y="248.6" font-size="7.7" text-anchor="middle" font-weight="normal" fill="#444" style="stroke:#444;stroke-width:0.1px">1</text>
<text x="406.7" y="248.6" font-size="7.7" text-anchor="middle" font-weight="normal" fill="#444" style="stroke:#444;stroke-width:0.1px">2</text>
<text x="418" y="248.6" font-size="7.7" text-anchor="middle" font-weight="normal" fill="#444" style="stroke:#444;stroke-width:0.1px">3</text>
<text x="429.2" y="248.6" font-size="7.7" text-anchor="middle" font-weight="normal" fill="#444" style="stroke:#444;stroke-width:0.1px">4</text>
<text x="477.0" y="278.7" font-size="8.2" text-anchor="end" font-weight="normal" fill="#333" >Control</text>
<text x="478.4" y="312.8" font-size="8.0" text-anchor="end" font-weight="normal" fill="#333" >3 Hours</text>
<text x="478.4" y="347.8" font-size="8.0" text-anchor="end" font-weight="normal" fill="#333" >2 Weeks</text>
<text transform="translate(349.9,311.55) rotate(-90)" font-size="9.2" text-anchor="middle" fill="#222">LSKCD48<tspan font-size="5.5" dy="-3">-</tspan></text>
<line x1="358.28" y1="373.5" x2="358.28" y2="375.8" stroke="#000" stroke-width="0.8"/>
<line x1="359.81" y1="373.5" x2="359.81" y2="375.8" stroke="#000" stroke-width="0.8"/>
<line x1="361.34" y1="373.5" x2="361.34" y2="375.8" stroke="#000" stroke-width="0.8"/>
<line x1="362.87" y1="373.5" x2="362.87" y2="375.8" stroke="#000" stroke-width="0.8"/>
<line x1="364.39" y1="373.5" x2="364.39" y2="375.8" stroke="#000" stroke-width="0.8"/>
<line x1="365.92" y1="373.5" x2="365.92" y2="375.8" stroke="#000" stroke-width="0.8"/>
<line x1="367.45" y1="373.5" x2="367.45" y2="375.8" stroke="#000" stroke-width="0.8"/>
<line x1="368.97" y1="373.5" x2="368.97" y2="375.8" stroke="#000" stroke-width="0.8"/>
<line x1="372.79" y1="373.5" x2="372.79" y2="375.8" stroke="#000" stroke-width="0.8"/>
<line x1="375.08" y1="373.5" x2="375.08" y2="375.8" stroke="#000" stroke-width="0.8"/>
<line x1="377.37" y1="373.5" x2="377.37" y2="375.8" stroke="#000" stroke-width="0.8"/>
<line x1="379.66" y1="373.5" x2="379.66" y2="375.8" stroke="#000" stroke-width="0.8"/>
<line x1="381.95" y1="373.5" x2="381.95" y2="375.8" stroke="#000" stroke-width="0.8"/>
<line x1="384.24" y1="373.5" x2="384.24" y2="375.8" stroke="#000" stroke-width="0.8"/>
<line x1="386.53" y1="373.5" x2="386.53" y2="375.8" stroke="#000" stroke-width="0.8"/>
<line x1="388.82" y1="373.5" x2="388.82" y2="375.8" stroke="#000" stroke-width="0.8"/>
<line x1="391.11" y1="373.5" x2="391.11" y2="375.8" stroke="#000" stroke-width="0.8"/>
<line x1="403.61" y1="373.5" x2="403.61" y2="375.8" stroke="#000" stroke-width="0.8"/>
<line x1="408.09" y1="373.5" x2="408.09" y2="375.8" stroke="#000" stroke-width="0.8"/>
<line x1="411.27" y1="373.5" x2="411.27" y2="375.8" stroke="#000" stroke-width="0.8"/>
<line x1="413.74" y1="373.5" x2="413.74" y2="375.8" stroke="#000" stroke-width="0.8"/>
<line x1="415.75" y1="373.5" x2="415.75" y2="375.8" stroke="#000" stroke-width="0.8"/>
<line x1="417.46" y1="373.5" x2="417.46" y2="375.8" stroke="#000" stroke-width="0.8"/>
<line x1="418.93" y1="373.5" x2="418.93" y2="375.8" stroke="#000" stroke-width="0.8"/>
<line x1="420.24" y1="373.5" x2="420.24" y2="375.8" stroke="#000" stroke-width="0.8"/>
<line x1="429.06" y1="373.5" x2="429.06" y2="375.8" stroke="#000" stroke-width="0.8"/>
<line x1="433.54" y1="373.5" x2="433.54" y2="375.8" stroke="#000" stroke-width="0.8"/>
<line x1="436.72" y1="373.5" x2="436.72" y2="375.8" stroke="#000" stroke-width="0.8"/>
<line x1="439.19" y1="373.5" x2="439.19" y2="375.8" stroke="#000" stroke-width="0.8"/>
<line x1="441.20" y1="373.5" x2="441.20" y2="375.8" stroke="#000" stroke-width="0.8"/>
<line x1="442.91" y1="373.5" x2="442.91" y2="375.8" stroke="#000" stroke-width="0.8"/>
<line x1="444.38" y1="373.5" x2="444.38" y2="375.8" stroke="#000" stroke-width="0.8"/>
<line x1="445.69" y1="373.5" x2="445.69" y2="375.8" stroke="#000" stroke-width="0.8"/>
<line x1="454.51" y1="373.5" x2="454.51" y2="375.8" stroke="#000" stroke-width="0.8"/>
<line x1="458.99" y1="373.5" x2="458.99" y2="375.8" stroke="#000" stroke-width="0.8"/>
<line x1="462.17" y1="373.5" x2="462.17" y2="375.8" stroke="#000" stroke-width="0.8"/>
<line x1="464.64" y1="373.5" x2="464.64" y2="375.8" stroke="#000" stroke-width="0.8"/>
<line x1="466.65" y1="373.5" x2="466.65" y2="375.8" stroke="#000" stroke-width="0.8"/>
<line x1="468.36" y1="373.5" x2="468.36" y2="375.8" stroke="#000" stroke-width="0.8"/>
<line x1="469.83" y1="373.5" x2="469.83" y2="375.8" stroke="#000" stroke-width="0.8"/>
<line x1="471.14" y1="373.5" x2="471.14" y2="375.8" stroke="#000" stroke-width="0.8"/>
<line x1="370.50" y1="373.5" x2="370.50" y2="376.9" stroke="#000" stroke-width="0.8"/>
<line x1="395.95" y1="373.5" x2="395.95" y2="376.9" stroke="#000" stroke-width="0.8"/>
<line x1="421.40" y1="373.5" x2="421.40" y2="376.9" stroke="#000" stroke-width="0.8"/>
<line x1="446.85" y1="373.5" x2="446.85" y2="376.9" stroke="#000" stroke-width="0.8"/>
<line x1="472.30" y1="373.5" x2="472.30" y2="376.9" stroke="#000" stroke-width="0.8"/>
<text x="370.5" y="386.9" font-size="8.4" text-anchor="middle" font-weight="normal" fill="#1a1a1a" >0</text>
<text x="396.10" y="386.9" font-size="8.4" text-anchor="middle" fill="#1a1a1a">10<tspan font-size="5.5" dy="-3.7">2</tspan></text>
<text x="421.50" y="386.9" font-size="8.4" text-anchor="middle" fill="#1a1a1a">10<tspan font-size="5.5" dy="-3.7">3</tspan></text>
<text x="446.90" y="386.9" font-size="8.4" text-anchor="middle" fill="#1a1a1a">10<tspan font-size="5.5" dy="-3.7">4</tspan></text>
<text x="472.30" y="386.9" font-size="8.4" text-anchor="middle" fill="#1a1a1a">10<tspan font-size="5.5" dy="-3.7">5</tspan></text>
<text x="46.6" y="398.8" font-size="10.2" text-anchor="start" font-weight="normal" fill="#222" textLength="16.3" lengthAdjust="spacingAndGlyphs">GFP</text>
<line x1="67.4" y1="395.7" x2="483" y2="395.7" stroke="#111" stroke-width="1.6" />
<path d="M489.2,395.8 L481.5,392.8 L483,395.8 L481.5,398.9 Z" fill="#000"/>
<text x="6.9" y="426.2" font-size="13" text-anchor="start" font-weight="bold" fill="#000" >C</text>
<line x1="54.50" y1="477.76" x2="54.50" y2="480.80" stroke="#111" stroke-width="1.2"/>
<line x1="50.40" y1="477.76" x2="58.60" y2="477.76" stroke="#111" stroke-width="1.3"/>
<rect x="47.00" y="480.80" width="15.0" height="16.10" fill="#2b4c8c" stroke="#1c2f5c" stroke-width="0.4"/>
<text transform="translate(59.90,504.30) rotate(-45)" font-size="8.5" text-anchor="end" fill="#222" class="hv">GFP0</text>
<line x1="76.75" y1="452.09" x2="76.75" y2="457.31" stroke="#111" stroke-width="1.2"/>
<line x1="72.65" y1="452.09" x2="80.85" y2="452.09" stroke="#111" stroke-width="1.3"/>
<rect x="69.25" y="457.31" width="15.0" height="39.58" fill="#2b4c8c" stroke="#1c2f5c" stroke-width="0.4"/>
<text transform="translate(82.15,504.30) rotate(-45)" font-size="8.5" text-anchor="end" fill="#222" class="hv">GFP1</text>
<line x1="99.00" y1="442.81" x2="99.00" y2="446.00" stroke="#111" stroke-width="1.2"/>
<line x1="94.90" y1="442.81" x2="103.10" y2="442.81" stroke="#111" stroke-width="1.3"/>
<rect x="91.50" y="446.00" width="15.0" height="50.89" fill="#2b4c8c" stroke="#1c2f5c" stroke-width="0.4"/>
<text transform="translate(104.40,504.30) rotate(-45)" font-size="8.5" text-anchor="end" fill="#222" class="hv">GFP2</text>
<line x1="121.25" y1="469.78" x2="121.25" y2="472.97" stroke="#111" stroke-width="1.2"/>
<line x1="117.15" y1="469.78" x2="125.35" y2="469.78" stroke="#111" stroke-width="1.3"/>
<rect x="113.75" y="472.97" width="15.0" height="23.93" fill="#2b4c8c" stroke="#1c2f5c" stroke-width="0.4"/>
<text transform="translate(126.65,504.30) rotate(-45)" font-size="8.5" text-anchor="end" fill="#222" class="hv">GFP3</text>
<line x1="143.50" y1="481.82" x2="143.50" y2="484.43" stroke="#111" stroke-width="1.2"/>
<line x1="139.40" y1="481.82" x2="147.60" y2="481.82" stroke="#111" stroke-width="1.3"/>
<rect x="136.00" y="484.43" width="15.0" height="12.47" fill="#2b4c8c" stroke="#1c2f5c" stroke-width="0.4"/>
<text transform="translate(148.90,504.30) rotate(-45)" font-size="8.5" text-anchor="end" fill="#222" class="hv">GFP4</text>
<line x1="40.0" y1="496.9" x2="154.0" y2="496.9" stroke="#111" stroke-width="1.5" />
<line x1="43.2" y1="421.2" x2="43.2" y2="497.59999999999997" stroke="#111" stroke-width="1.6" />
<text x="36.800000000000004" y="500.09999999999997" font-size="9.0" text-anchor="end" font-weight="normal" fill="#222" class="hv">0</text>
<line x1="40.0" y1="482.4" x2="43.2" y2="482.4" stroke="#111" stroke-width="1.2" />
<text x="36.800000000000004" y="485.59999999999997" font-size="9.0" text-anchor="end" font-weight="normal" fill="#222" class="hv">10</text>
<line x1="40.0" y1="467.9" x2="43.2" y2="467.9" stroke="#111" stroke-width="1.2" />
<text x="36.800000000000004" y="471.09999999999997" font-size="9.0" text-anchor="end" font-weight="normal" fill="#222" class="hv">20</text>
<line x1="40.0" y1="453.4" x2="43.2" y2="453.4" stroke="#111" stroke-width="1.2" />
<text x="36.800000000000004" y="456.59999999999997" font-size="9.0" text-anchor="end" font-weight="normal" fill="#222" class="hv">30</text>
<line x1="40.0" y1="438.9" x2="43.2" y2="438.9" stroke="#111" stroke-width="1.2" />
<text x="36.800000000000004" y="442.09999999999997" font-size="9.0" text-anchor="end" font-weight="normal" fill="#222" class="hv">40</text>
<line x1="40.0" y1="424.4" x2="43.2" y2="424.4" stroke="#111" stroke-width="1.2" />
<text x="36.800000000000004" y="427.59999999999997" font-size="9.0" text-anchor="end" font-weight="normal" fill="#222" class="hv">50</text>
<text transform="translate(22.00,459.65) rotate(-90)" font-size="9.6" text-anchor="middle" fill="#222" textLength="44.3" lengthAdjust="spacingAndGlyphs">% of HSCs</text>
<line x1="214.50" y1="442.52" x2="214.50" y2="447.24" stroke="#111" stroke-width="1.2"/>
<line x1="210.40" y1="442.52" x2="218.60" y2="442.52" stroke="#111" stroke-width="1.3"/>
<rect x="207.00" y="447.24" width="15.0" height="49.66" fill="#2b4c8c" stroke="#1c2f5c" stroke-width="0.4"/>
<text transform="translate(219.90,504.30) rotate(-45)" font-size="8.5" text-anchor="end" fill="#222" class="hv">GFP0</text>
<line x1="236.75" y1="472.25" x2="236.75" y2="475.78" stroke="#111" stroke-width="1.2"/>
<line x1="232.65" y1="472.25" x2="240.85" y2="472.25" stroke="#111" stroke-width="1.3"/>
<rect x="229.25" y="475.78" width="15.0" height="21.12" fill="#2b4c8c" stroke="#1c2f5c" stroke-width="0.4"/>
<text transform="translate(242.15,504.30) rotate(-45)" font-size="8.5" text-anchor="end" fill="#222" class="hv">GFP1</text>
<line x1="259.00" y1="481.86" x2="259.00" y2="484.21" stroke="#111" stroke-width="1.2"/>
<line x1="254.90" y1="481.86" x2="263.10" y2="481.86" stroke="#111" stroke-width="1.3"/>
<rect x="251.50" y="484.21" width="15.0" height="12.69" fill="#2b4c8c" stroke="#1c2f5c" stroke-width="0.4"/>
<text transform="translate(264.40,504.30) rotate(-45)" font-size="8.5" text-anchor="end" fill="#222" class="hv">GFP2</text>
<line x1="281.25" y1="491.64" x2="281.25" y2="492.37" stroke="#111" stroke-width="1.2"/>
<line x1="277.15" y1="491.64" x2="285.35" y2="491.64" stroke="#111" stroke-width="1.3"/>
<rect x="273.75" y="492.37" width="15.0" height="4.53" fill="#2b4c8c" stroke="#1c2f5c" stroke-width="0.4"/>
<text transform="translate(286.65,504.30) rotate(-45)" font-size="8.5" text-anchor="end" fill="#222" class="hv">GFP3</text>
<line x1="303.50" y1="495.18" x2="303.50" y2="495.99" stroke="#111" stroke-width="1.2"/>
<line x1="299.40" y1="495.18" x2="307.60" y2="495.18" stroke="#111" stroke-width="1.3"/>
<rect x="296.00" y="495.99" width="15.0" height="0.91" fill="#2b4c8c" stroke="#1c2f5c" stroke-width="0.4"/>
<text transform="translate(308.90,504.30) rotate(-45)" font-size="8.5" text-anchor="end" fill="#222" class="hv">GFP4</text>
<line x1="200.10000000000002" y1="496.9" x2="314.0" y2="496.9" stroke="#111" stroke-width="1.5" />
<line x1="203.3" y1="421.2" x2="203.3" y2="497.59999999999997" stroke="#111" stroke-width="1.6" />
<text x="196.9" y="500.09999999999997" font-size="9.0" text-anchor="end" font-weight="normal" fill="#222" class="hv">0</text>
<line x1="200.10000000000002" y1="478.775" x2="203.3" y2="478.775" stroke="#111" stroke-width="1.2" />
<text x="196.9" y="481.97499999999997" font-size="9.0" text-anchor="end" font-weight="normal" fill="#222" class="hv">20</text>
<line x1="200.10000000000002" y1="460.65" x2="203.3" y2="460.65" stroke="#111" stroke-width="1.2" />
<text x="196.9" y="463.84999999999997" font-size="9.0" text-anchor="end" font-weight="normal" fill="#222" class="hv">40</text>
<line x1="200.10000000000002" y1="442.525" x2="203.3" y2="442.525" stroke="#111" stroke-width="1.2" />
<text x="196.9" y="445.72499999999997" font-size="9.0" text-anchor="end" font-weight="normal" fill="#222" class="hv">60</text>
<line x1="200.10000000000002" y1="424.4" x2="203.3" y2="424.4" stroke="#111" stroke-width="1.2" />
<text x="196.9" y="427.59999999999997" font-size="9.0" text-anchor="end" font-weight="normal" fill="#222" class="hv">80</text>
<text transform="translate(182.30,459.65) rotate(-90)" font-size="9.1" text-anchor="middle" fill="#222">% of LSKCD48<tspan font-size="5.5" dy="-3.2">-</tspan><tspan dy="3.2"> cells</tspan></text>
<line x1="368.95" y1="444.61" x2="368.95" y2="453.22" stroke="#111" stroke-width="1.2"/>
<line x1="364.85" y1="444.61" x2="373.05" y2="444.61" stroke="#111" stroke-width="1.3"/>
<rect x="361.30" y="453.22" width="15.3" height="43.68" fill="#2b4c8c" stroke="#1c2f5c" stroke-width="0.4"/>
<text transform="translate(374.35,504.30) rotate(-45)" font-size="8.5" text-anchor="end" fill="#222" class="hv">GFP0</text>
<line x1="391.35" y1="465.00" x2="391.35" y2="472.25" stroke="#111" stroke-width="1.2"/>
<line x1="387.25" y1="465.00" x2="395.45" y2="465.00" stroke="#111" stroke-width="1.3"/>
<rect x="383.70" y="472.25" width="15.3" height="24.65" fill="#2b4c8c" stroke="#1c2f5c" stroke-width="0.4"/>
<text transform="translate(396.75,504.30) rotate(-45)" font-size="8.5" text-anchor="end" fill="#222" class="hv">GFP1</text>
<line x1="413.75" y1="473.61" x2="413.75" y2="479.68" stroke="#111" stroke-width="1.2"/>
<line x1="409.65" y1="473.61" x2="417.85" y2="473.61" stroke="#111" stroke-width="1.3"/>
<rect x="406.10" y="479.68" width="15.3" height="17.22" fill="#2b4c8c" stroke="#1c2f5c" stroke-width="0.4"/>
<text transform="translate(419.15,504.30) rotate(-45)" font-size="8.5" text-anchor="end" fill="#222" class="hv">GFP2</text>
<line x1="436.15" y1="491.64" x2="436.15" y2="493.64" stroke="#111" stroke-width="1.2"/>
<line x1="432.05" y1="491.64" x2="440.25" y2="491.64" stroke="#111" stroke-width="1.3"/>
<rect x="428.50" y="493.64" width="15.3" height="3.26" fill="#2b4c8c" stroke="#1c2f5c" stroke-width="0.4"/>
<text transform="translate(441.55,504.30) rotate(-45)" font-size="8.5" text-anchor="end" fill="#222" class="hv">GFP3</text>
<line x1="458.55" y1="495.99" x2="458.55" y2="496.45" stroke="#111" stroke-width="1.2"/>
<line x1="454.45" y1="495.99" x2="462.65" y2="495.99" stroke="#111" stroke-width="1.3"/>
<rect x="450.90" y="496.45" width="15.3" height="0.45" fill="#2b4c8c" stroke="#1c2f5c" stroke-width="0.4"/>
<text transform="translate(463.95,504.30) rotate(-45)" font-size="8.5" text-anchor="end" fill="#222" class="hv">GFP4</text>
<line x1="355.1" y1="496.9" x2="469.2" y2="496.9" stroke="#111" stroke-width="1.5" />
<line x1="358.3" y1="421.2" x2="358.3" y2="497.59999999999997" stroke="#111" stroke-width="1.6" />
<text x="351.90000000000003" y="500.09999999999997" font-size="9.0" text-anchor="end" font-weight="normal" fill="#222" class="hv">0</text>
<line x1="355.1" y1="478.775" x2="358.3" y2="478.775" stroke="#111" stroke-width="1.2" />
<text x="351.90000000000003" y="481.97499999999997" font-size="9.0" text-anchor="end" font-weight="normal" fill="#222" class="hv">20</text>
<line x1="355.1" y1="460.65" x2="358.3" y2="460.65" stroke="#111" stroke-width="1.2" />
<text x="351.90000000000003" y="463.84999999999997" font-size="9.0" text-anchor="end" font-weight="normal" fill="#222" class="hv">40</text>
<line x1="355.1" y1="442.525" x2="358.3" y2="442.525" stroke="#111" stroke-width="1.2" />
<text x="351.90000000000003" y="445.72499999999997" font-size="9.0" text-anchor="end" font-weight="normal" fill="#222" class="hv">60</text>
<line x1="355.1" y1="424.4" x2="358.3" y2="424.4" stroke="#111" stroke-width="1.2" />
<text x="351.90000000000003" y="427.59999999999997" font-size="9.0" text-anchor="end" font-weight="normal" fill="#222" class="hv">80</text>
<text transform="translate(337.30,459.65) rotate(-90)" font-size="9.1" text-anchor="middle" fill="#222">% of LSKCD48<tspan font-size="5.5" dy="-3.2">-</tspan><tspan dy="3.2"> cells</tspan></text>
<text x="478.6" y="465.9" font-size="8.15" text-anchor="start" font-weight="bold" fill="#111" >Control</text>
<line x1="55.90" y1="562.29" x2="55.90" y2="568.38" stroke="#111" stroke-width="1.2"/>
<line x1="51.80" y1="562.29" x2="60.00" y2="562.29" stroke="#111" stroke-width="1.3"/>
<rect x="48.10" y="568.38" width="15.6" height="36.92" fill="#b2102f" stroke="#7a0a20" stroke-width="0.4"/>
<circle cx="55.90" cy="557.09" r="1.3" fill="#111"/>
<text transform="translate(61.30,612.70) rotate(-45)" font-size="8.5" text-anchor="end" fill="#222" class="hv">GFP0</text>
<line x1="78.25" y1="540.57" x2="78.25" y2="545.06" stroke="#111" stroke-width="1.2"/>
<line x1="74.15" y1="540.57" x2="82.35" y2="540.57" stroke="#111" stroke-width="1.3"/>
<rect x="70.45" y="545.06" width="15.6" height="60.24" fill="#b2102f" stroke="#7a0a20" stroke-width="0.4"/>
<circle cx="78.25" cy="535.37" r="1.3" fill="#111"/>
<text transform="translate(83.65,612.70) rotate(-45)" font-size="8.5" text-anchor="end" fill="#222" class="hv">GFP1</text>
<line x1="100.60" y1="571.27" x2="100.60" y2="575.04" stroke="#111" stroke-width="1.2"/>
<line x1="96.50" y1="571.27" x2="104.70" y2="571.27" stroke="#111" stroke-width="1.3"/>
<rect x="92.80" y="575.04" width="15.6" height="30.26" fill="#b2102f" stroke="#7a0a20" stroke-width="0.4"/>
<circle cx="98.75" cy="566.07" r="1.3" fill="#111"/>
<circle cx="102.45" cy="566.07" r="1.3" fill="#111"/>
<text transform="translate(106.00,612.70) rotate(-45)" font-size="8.5" text-anchor="end" fill="#222" class="hv">GFP2</text>
<line x1="122.95" y1="592.99" x2="122.95" y2="595.45" stroke="#111" stroke-width="1.2"/>
<line x1="118.85" y1="592.99" x2="127.05" y2="592.99" stroke="#111" stroke-width="1.3"/>
<rect x="115.15" y="595.45" width="15.6" height="9.85" fill="#b2102f" stroke="#7a0a20" stroke-width="0.4"/>
<circle cx="121.10" cy="587.79" r="1.3" fill="#111"/>
<circle cx="124.80" cy="587.79" r="1.3" fill="#111"/>
<text transform="translate(128.35,612.70) rotate(-45)" font-size="8.5" text-anchor="end" fill="#222" class="hv">GFP3</text>
<line x1="145.30" y1="595.60" x2="145.30" y2="597.77" stroke="#111" stroke-width="1.2"/>
<line x1="141.20" y1="595.60" x2="149.40" y2="595.60" stroke="#111" stroke-width="1.3"/>
<rect x="137.50" y="597.77" width="15.6" height="7.53" fill="#b2102f" stroke="#7a0a20" stroke-width="0.4"/>
<circle cx="145.30" cy="590.40" r="1.3" fill="#111"/>
<text transform="translate(150.70,612.70) rotate(-45)" font-size="8.5" text-anchor="end" fill="#222" class="hv">GFP4</text>
<line x1="42.0" y1="605.3" x2="156.1" y2="605.3" stroke="#111" stroke-width="1.5" />
<line x1="45.2" y1="529.6999999999999" x2="45.2" y2="606.0" stroke="#111" stroke-width="1.6" />
<text x="38.800000000000004" y="608.5" font-size="9.0" text-anchor="end" font-weight="normal" fill="#222" class="hv">0</text>
<line x1="42.0" y1="590.8199999999999" x2="45.2" y2="590.8199999999999" stroke="#111" stroke-width="1.2" />
<text x="38.800000000000004" y="594.02" font-size="9.0" text-anchor="end" font-weight="normal" fill="#222" class="hv">10</text>
<line x1="42.0" y1="576.3399999999999" x2="45.2" y2="576.3399999999999" stroke="#111" stroke-width="1.2" />
<text x="38.800000000000004" y="579.54" font-size="9.0" text-anchor="end" font-weight="normal" fill="#222" class="hv">20</text>
<line x1="42.0" y1="561.86" x2="45.2" y2="561.86" stroke="#111" stroke-width="1.2" />
<text x="38.800000000000004" y="565.0600000000001" font-size="9.0" text-anchor="end" font-weight="normal" fill="#222" class="hv">30</text>
<line x1="42.0" y1="547.38" x2="45.2" y2="547.38" stroke="#111" stroke-width="1.2" />
<text x="38.800000000000004" y="550.58" font-size="9.0" text-anchor="end" font-weight="normal" fill="#222" class="hv">40</text>
<line x1="42.0" y1="532.9" x2="45.2" y2="532.9" stroke="#111" stroke-width="1.2" />
<text x="38.800000000000004" y="536.1" font-size="9.0" text-anchor="end" font-weight="normal" fill="#222" class="hv">50</text>
<text transform="translate(23.60,568.10) rotate(-90)" font-size="9.6" text-anchor="middle" fill="#222" textLength="44.3" lengthAdjust="spacingAndGlyphs">% of HSCs</text>
<line x1="214.10" y1="579.33" x2="214.10" y2="581.68" stroke="#111" stroke-width="1.2"/>
<line x1="210.00" y1="579.33" x2="218.20" y2="579.33" stroke="#111" stroke-width="1.3"/>
<rect x="206.50" y="581.68" width="15.2" height="23.62" fill="#b2102f" stroke="#7a0a20" stroke-width="0.4"/>
<circle cx="212.25" cy="574.13" r="1.3" fill="#111"/>
<circle cx="215.95" cy="574.13" r="1.3" fill="#111"/>
<text transform="translate(219.50,612.70) rotate(-45)" font-size="8.5" text-anchor="end" fill="#222" class="hv">GFP0</text>
<line x1="236.40" y1="576.43" x2="236.40" y2="578.60" stroke="#111" stroke-width="1.2"/>
<line x1="232.30" y1="576.43" x2="240.50" y2="576.43" stroke="#111" stroke-width="1.3"/>
<rect x="228.80" y="578.60" width="15.2" height="26.70" fill="#b2102f" stroke="#7a0a20" stroke-width="0.4"/>
<text transform="translate(241.80,612.70) rotate(-45)" font-size="8.5" text-anchor="end" fill="#222" class="hv">GFP1</text>
<line x1="258.70" y1="583.40" x2="258.70" y2="585.30" stroke="#111" stroke-width="1.2"/>
<line x1="254.60" y1="583.40" x2="262.80" y2="583.40" stroke="#111" stroke-width="1.3"/>
<rect x="251.10" y="585.30" width="15.2" height="20.00" fill="#b2102f" stroke="#7a0a20" stroke-width="0.4"/>
<circle cx="258.70" cy="578.20" r="1.3" fill="#111"/>
<text transform="translate(264.10,612.70) rotate(-45)" font-size="8.5" text-anchor="end" fill="#222" class="hv">GFP2</text>
<line x1="281.00" y1="595.53" x2="281.00" y2="596.16" stroke="#111" stroke-width="1.2"/>
<line x1="276.90" y1="595.53" x2="285.10" y2="595.53" stroke="#111" stroke-width="1.3"/>
<rect x="273.40" y="596.16" width="15.2" height="9.14" fill="#b2102f" stroke="#7a0a20" stroke-width="0.4"/>
<circle cx="279.15" cy="590.33" r="1.3" fill="#111"/>
<circle cx="282.85" cy="590.33" r="1.3" fill="#111"/>
<text transform="translate(286.40,612.70) rotate(-45)" font-size="8.5" text-anchor="end" fill="#222" class="hv">GFP3</text>
<line x1="303.30" y1="593.72" x2="303.30" y2="594.44" stroke="#111" stroke-width="1.2"/>
<line x1="299.20" y1="593.72" x2="307.40" y2="593.72" stroke="#111" stroke-width="1.3"/>
<rect x="295.70" y="594.44" width="15.2" height="10.86" fill="#b2102f" stroke="#7a0a20" stroke-width="0.4"/>
<circle cx="299.60" cy="588.52" r="1.3" fill="#111"/>
<circle cx="303.30" cy="588.52" r="1.3" fill="#111"/>
<circle cx="307.00" cy="588.52" r="1.3" fill="#111"/>
<text transform="translate(308.70,612.70) rotate(-45)" font-size="8.5" text-anchor="end" fill="#222" class="hv">GFP4</text>
<line x1="199.9" y1="605.3" x2="313.9" y2="605.3" stroke="#111" stroke-width="1.5" />
<line x1="203.1" y1="529.6999999999999" x2="203.1" y2="606.0" stroke="#111" stroke-width="1.6" />
<text x="196.7" y="608.5" font-size="9.0" text-anchor="end" font-weight="normal" fill="#222" class="hv">0</text>
<line x1="199.9" y1="587.1999999999999" x2="203.1" y2="587.1999999999999" stroke="#111" stroke-width="1.2" />
<text x="196.7" y="590.4" font-size="9.0" text-anchor="end" font-weight="normal" fill="#222" class="hv">20</text>
<line x1="199.9" y1="569.0999999999999" x2="203.1" y2="569.0999999999999" stroke="#111" stroke-width="1.2" />
<text x="196.7" y="572.3" font-size="9.0" text-anchor="end" font-weight="normal" fill="#222" class="hv">40</text>
<line x1="199.9" y1="551.0" x2="203.1" y2="551.0" stroke="#111" stroke-width="1.2" />
<text x="196.7" y="554.2" font-size="9.0" text-anchor="end" font-weight="normal" fill="#222" class="hv">60</text>
<line x1="199.9" y1="532.9" x2="203.1" y2="532.9" stroke="#111" stroke-width="1.2" />
<text x="196.7" y="536.1" font-size="9.0" text-anchor="end" font-weight="normal" fill="#222" class="hv">80</text>
<text transform="translate(182.10,568.10) rotate(-90)" font-size="9.1" text-anchor="middle" fill="#222">% of LSKCD48<tspan font-size="5.5" dy="-3.2">-</tspan><tspan dy="3.2"> cells</tspan></text>
<line x1="369.35" y1="597.88" x2="369.35" y2="599.24" stroke="#111" stroke-width="1.2"/>
<line x1="365.25" y1="597.88" x2="373.45" y2="597.88" stroke="#111" stroke-width="1.3"/>
<rect x="361.70" y="599.24" width="15.3" height="6.06" fill="#b2102f" stroke="#7a0a20" stroke-width="0.4"/>
<circle cx="367.50" cy="592.68" r="1.3" fill="#111"/>
<circle cx="371.20" cy="592.68" r="1.3" fill="#111"/>
<text transform="translate(374.75,612.70) rotate(-45)" font-size="8.5" text-anchor="end" fill="#222" class="hv">GFP0</text>
<line x1="391.70" y1="597.43" x2="391.70" y2="598.60" stroke="#111" stroke-width="1.2"/>
<line x1="387.60" y1="597.43" x2="395.80" y2="597.43" stroke="#111" stroke-width="1.3"/>
<rect x="384.05" y="598.60" width="15.3" height="6.70" fill="#b2102f" stroke="#7a0a20" stroke-width="0.4"/>
<circle cx="391.70" cy="592.23" r="1.3" fill="#111"/>
<text transform="translate(397.10,612.70) rotate(-45)" font-size="8.5" text-anchor="end" fill="#222" class="hv">GFP1</text>
<line x1="414.05" y1="596.34" x2="414.05" y2="596.88" stroke="#111" stroke-width="1.2"/>
<line x1="409.95" y1="596.34" x2="418.15" y2="596.34" stroke="#111" stroke-width="1.3"/>
<rect x="406.40" y="596.88" width="15.3" height="8.42" fill="#b2102f" stroke="#7a0a20" stroke-width="0.4"/>
<text transform="translate(419.45,612.70) rotate(-45)" font-size="8.5" text-anchor="end" fill="#222" class="hv">GFP2</text>
<line x1="436.40" y1="573.26" x2="436.40" y2="576.34" stroke="#111" stroke-width="1.2"/>
<line x1="432.30" y1="573.26" x2="440.50" y2="573.26" stroke="#111" stroke-width="1.3"/>
<rect x="428.75" y="576.34" width="15.3" height="28.96" fill="#b2102f" stroke="#7a0a20" stroke-width="0.4"/>
<circle cx="432.70" cy="568.06" r="1.3" fill="#111"/>
<circle cx="436.40" cy="568.06" r="1.3" fill="#111"/>
<circle cx="440.10" cy="568.06" r="1.3" fill="#111"/>
<text transform="translate(441.80,612.70) rotate(-45)" font-size="8.5" text-anchor="end" fill="#222" class="hv">GFP3</text>
<line x1="458.75" y1="562.86" x2="458.75" y2="565.21" stroke="#111" stroke-width="1.2"/>
<line x1="454.65" y1="562.86" x2="462.85" y2="562.86" stroke="#111" stroke-width="1.3"/>
<rect x="451.10" y="565.21" width="15.3" height="40.09" fill="#b2102f" stroke="#7a0a20" stroke-width="0.4"/>
<circle cx="455.05" cy="557.66" r="1.3" fill="#111"/>
<circle cx="458.75" cy="557.66" r="1.3" fill="#111"/>
<circle cx="462.45" cy="557.66" r="1.3" fill="#111"/>
<text transform="translate(464.15,612.70) rotate(-45)" font-size="8.5" text-anchor="end" fill="#222" class="hv">GFP4</text>
<line x1="355.5" y1="605.3" x2="469.40000000000003" y2="605.3" stroke="#111" stroke-width="1.5" />
<line x1="358.7" y1="529.6999999999999" x2="358.7" y2="606.0" stroke="#111" stroke-width="1.6" />
<text x="352.3" y="608.5" font-size="9.0" text-anchor="end" font-weight="normal" fill="#222" class="hv">0</text>
<line x1="355.5" y1="587.1999999999999" x2="358.7" y2="587.1999999999999" stroke="#111" stroke-width="1.2" />
<text x="352.3" y="590.4" font-size="9.0" text-anchor="end" font-weight="normal" fill="#222" class="hv">20</text>
<line x1="355.5" y1="569.0999999999999" x2="358.7" y2="569.0999999999999" stroke="#111" stroke-width="1.2" />
<text x="352.3" y="572.3" font-size="9.0" text-anchor="end" font-weight="normal" fill="#222" class="hv">40</text>
<line x1="355.5" y1="551.0" x2="358.7" y2="551.0" stroke="#111" stroke-width="1.2" />
<text x="352.3" y="554.2" font-size="9.0" text-anchor="end" font-weight="normal" fill="#222" class="hv">60</text>
<line x1="355.5" y1="532.9" x2="358.7" y2="532.9" stroke="#111" stroke-width="1.2" />
<text x="352.3" y="536.1" font-size="9.0" text-anchor="end" font-weight="normal" fill="#222" class="hv">80</text>
<text transform="translate(337.70,568.10) rotate(-90)" font-size="9.1" text-anchor="middle" fill="#222">% of LSKCD48<tspan font-size="5.5" dy="-3.2">-</tspan><tspan dy="3.2"> cells</tspan></text>
<text x="478.6" y="574.3" font-size="8.15" text-anchor="start" font-weight="bold" fill="#111" >3 Hours</text>
<line x1="56.00" y1="700.88" x2="56.00" y2="704.52" stroke="#111" stroke-width="1.2"/>
<line x1="51.90" y1="700.88" x2="60.10" y2="700.88" stroke="#111" stroke-width="1.3"/>
<rect x="48.10" y="704.52" width="15.8" height="9.48" fill="#67a83f" stroke="#4a7e2a" stroke-width="0.4"/>
<text transform="translate(61.40,721.40) rotate(-45)" font-size="8.5" text-anchor="end" fill="#222" class="hv">GFP0</text>
<line x1="78.35" y1="673.18" x2="78.35" y2="675.22" stroke="#111" stroke-width="1.2"/>
<line x1="74.25" y1="673.18" x2="82.45" y2="673.18" stroke="#111" stroke-width="1.3"/>
<rect x="70.45" y="675.22" width="15.8" height="38.78" fill="#67a83f" stroke="#4a7e2a" stroke-width="0.4"/>
<text transform="translate(83.75,721.40) rotate(-45)" font-size="8.5" text-anchor="end" fill="#222" class="hv">GFP1</text>
<line x1="100.70" y1="652.47" x2="100.70" y2="654.37" stroke="#111" stroke-width="1.2"/>
<line x1="96.60" y1="652.47" x2="104.80" y2="652.47" stroke="#111" stroke-width="1.3"/>
<rect x="92.80" y="654.37" width="15.8" height="59.63" fill="#67a83f" stroke="#4a7e2a" stroke-width="0.4"/>
<text transform="translate(106.10,721.40) rotate(-45)" font-size="8.5" text-anchor="end" fill="#222" class="hv">GFP2</text>
<line x1="123.05" y1="682.80" x2="123.05" y2="685.13" stroke="#111" stroke-width="1.2"/>
<line x1="118.95" y1="682.80" x2="127.15" y2="682.80" stroke="#111" stroke-width="1.3"/>
<rect x="115.15" y="685.13" width="15.8" height="28.87" fill="#67a83f" stroke="#4a7e2a" stroke-width="0.4"/>
<text transform="translate(128.45,721.40) rotate(-45)" font-size="8.5" text-anchor="end" fill="#222" class="hv">GFP3</text>
<line x1="145.40" y1="704.96" x2="145.40" y2="707.29" stroke="#111" stroke-width="1.2"/>
<line x1="141.30" y1="704.96" x2="149.50" y2="704.96" stroke="#111" stroke-width="1.3"/>
<rect x="137.50" y="707.29" width="15.8" height="6.71" fill="#67a83f" stroke="#4a7e2a" stroke-width="0.4"/>
<circle cx="145.40" cy="699.76" r="1.3" fill="#111"/>
<text transform="translate(150.80,721.40) rotate(-45)" font-size="8.5" text-anchor="end" fill="#222" class="hv">GFP4</text>
<line x1="41.8" y1="714.0" x2="156.3" y2="714.0" stroke="#111" stroke-width="1.5" />
<line x1="45.0" y1="637.9" x2="45.0" y2="714.7" stroke="#111" stroke-width="1.6" />
<text x="38.6" y="717.2" font-size="9.0" text-anchor="end" font-weight="normal" fill="#222" class="hv">0</text>
<line x1="41.8" y1="699.42" x2="45.0" y2="699.42" stroke="#111" stroke-width="1.2" />
<text x="38.6" y="702.62" font-size="9.0" text-anchor="end" font-weight="normal" fill="#222" class="hv">10</text>
<line x1="41.8" y1="684.84" x2="45.0" y2="684.84" stroke="#111" stroke-width="1.2" />
<text x="38.6" y="688.0400000000001" font-size="9.0" text-anchor="end" font-weight="normal" fill="#222" class="hv">20</text>
<line x1="41.8" y1="670.26" x2="45.0" y2="670.26" stroke="#111" stroke-width="1.2" />
<text x="38.6" y="673.46" font-size="9.0" text-anchor="end" font-weight="normal" fill="#222" class="hv">30</text>
<line x1="41.8" y1="655.6800000000001" x2="45.0" y2="655.6800000000001" stroke="#111" stroke-width="1.2" />
<text x="38.6" y="658.8800000000001" font-size="9.0" text-anchor="end" font-weight="normal" fill="#222" class="hv">40</text>
<line x1="41.8" y1="641.1" x2="45.0" y2="641.1" stroke="#111" stroke-width="1.2" />
<text x="38.6" y="644.3000000000001" font-size="9.0" text-anchor="end" font-weight="normal" fill="#222" class="hv">50</text>
<text transform="translate(23.30,676.55) rotate(-90)" font-size="9.6" text-anchor="middle" fill="#222" textLength="44.3" lengthAdjust="spacingAndGlyphs">% of HSCs</text>
<line x1="214.30" y1="694.04" x2="214.30" y2="697.14" stroke="#111" stroke-width="1.2"/>
<line x1="210.20" y1="694.04" x2="218.40" y2="694.04" stroke="#111" stroke-width="1.3"/>
<rect x="206.70" y="697.14" width="15.2" height="16.86" fill="#67a83f" stroke="#4a7e2a" stroke-width="0.4"/>
<circle cx="210.60" cy="688.84" r="1.3" fill="#111"/>
<circle cx="214.30" cy="688.84" r="1.3" fill="#111"/>
<circle cx="218.00" cy="688.84" r="1.3" fill="#111"/>
<text transform="translate(219.70,721.40) rotate(-45)" font-size="8.5" text-anchor="end" fill="#222" class="hv">GFP0</text>
<line x1="236.60" y1="696.96" x2="236.60" y2="697.69" stroke="#111" stroke-width="1.2"/>
<line x1="232.50" y1="696.96" x2="240.70" y2="696.96" stroke="#111" stroke-width="1.3"/>
<rect x="229.00" y="697.69" width="15.2" height="16.31" fill="#67a83f" stroke="#4a7e2a" stroke-width="0.4"/>
<text transform="translate(242.00,721.40) rotate(-45)" font-size="8.5" text-anchor="end" fill="#222" class="hv">GFP1</text>
<line x1="258.90" y1="683.93" x2="258.90" y2="685.66" stroke="#111" stroke-width="1.2"/>
<line x1="254.80" y1="683.93" x2="263.00" y2="683.93" stroke="#111" stroke-width="1.3"/>
<rect x="251.30" y="685.66" width="15.2" height="28.34" fill="#67a83f" stroke="#4a7e2a" stroke-width="0.4"/>
<circle cx="255.20" cy="678.73" r="1.3" fill="#111"/>
<circle cx="258.90" cy="678.73" r="1.3" fill="#111"/>
<circle cx="262.60" cy="678.73" r="1.3" fill="#111"/>
<text transform="translate(264.30,721.40) rotate(-45)" font-size="8.5" text-anchor="end" fill="#222" class="hv">GFP2</text>
<line x1="281.20" y1="692.86" x2="281.20" y2="694.04" stroke="#111" stroke-width="1.2"/>
<line x1="277.10" y1="692.86" x2="285.30" y2="692.86" stroke="#111" stroke-width="1.3"/>
<rect x="273.60" y="694.04" width="15.2" height="19.96" fill="#67a83f" stroke="#4a7e2a" stroke-width="0.4"/>
<circle cx="277.50" cy="687.66" r="1.3" fill="#111"/>
<circle cx="281.20" cy="687.66" r="1.3" fill="#111"/>
<circle cx="284.90" cy="687.66" r="1.3" fill="#111"/>
<text transform="translate(286.60,721.40) rotate(-45)" font-size="8.5" text-anchor="end" fill="#222" class="hv">GFP3</text>
<line x1="303.50" y1="704.43" x2="303.50" y2="705.34" stroke="#111" stroke-width="1.2"/>
<line x1="299.40" y1="704.43" x2="307.60" y2="704.43" stroke="#111" stroke-width="1.3"/>
<rect x="295.90" y="705.34" width="15.2" height="8.66" fill="#67a83f" stroke="#4a7e2a" stroke-width="0.4"/>
<circle cx="299.80" cy="699.23" r="1.3" fill="#111"/>
<circle cx="303.50" cy="699.23" r="1.3" fill="#111"/>
<circle cx="307.20" cy="699.23" r="1.3" fill="#111"/>
<text transform="translate(308.90,721.40) rotate(-45)" font-size="8.5" text-anchor="end" fill="#222" class="hv">GFP4</text>
<line x1="200.10000000000002" y1="714.0" x2="314.09999999999997" y2="714.0" stroke="#111" stroke-width="1.5" />
<line x1="203.3" y1="637.9" x2="203.3" y2="714.7" stroke="#111" stroke-width="1.6" />
<text x="196.9" y="717.2" font-size="9.0" text-anchor="end" font-weight="normal" fill="#222" class="hv">0</text>
<line x1="200.10000000000002" y1="695.775" x2="203.3" y2="695.775" stroke="#111" stroke-width="1.2" />
<text x="196.9" y="698.975" font-size="9.0" text-anchor="end" font-weight="normal" fill="#222" class="hv">20</text>
<line x1="200.10000000000002" y1="677.55" x2="203.3" y2="677.55" stroke="#111" stroke-width="1.2" />
<text x="196.9" y="680.75" font-size="9.0" text-anchor="end" font-weight="normal" fill="#222" class="hv">40</text>
<line x1="200.10000000000002" y1="659.325" x2="203.3" y2="659.325" stroke="#111" stroke-width="1.2" />
<text x="196.9" y="662.5250000000001" font-size="9.0" text-anchor="end" font-weight="normal" fill="#222" class="hv">60</text>
<line x1="200.10000000000002" y1="641.1" x2="203.3" y2="641.1" stroke="#111" stroke-width="1.2" />
<text x="196.9" y="644.3000000000001" font-size="9.0" text-anchor="end" font-weight="normal" fill="#222" class="hv">80</text>
<text transform="translate(182.30,676.55) rotate(-90)" font-size="9.1" text-anchor="middle" fill="#222">% of LSKCD48<tspan font-size="5.5" dy="-3.2">-</tspan><tspan dy="3.2"> cells</tspan></text>
<line x1="369.35" y1="653.13" x2="369.35" y2="662.06" stroke="#111" stroke-width="1.2"/>
<line x1="365.25" y1="653.13" x2="373.45" y2="653.13" stroke="#111" stroke-width="1.3"/>
<rect x="361.70" y="662.06" width="15.3" height="51.94" fill="#67a83f" stroke="#4a7e2a" stroke-width="0.4"/>
<text transform="translate(374.75,721.40) rotate(-45)" font-size="8.5" text-anchor="end" fill="#222" class="hv">GFP0</text>
<line x1="391.70" y1="696.50" x2="391.70" y2="698.14" stroke="#111" stroke-width="1.2"/>
<line x1="387.60" y1="696.50" x2="395.80" y2="696.50" stroke="#111" stroke-width="1.3"/>
<rect x="384.05" y="698.14" width="15.3" height="15.86" fill="#67a83f" stroke="#4a7e2a" stroke-width="0.4"/>
<text transform="translate(397.10,721.40) rotate(-45)" font-size="8.5" text-anchor="end" fill="#222" class="hv">GFP1</text>
<line x1="414.05" y1="700.06" x2="414.05" y2="702.52" stroke="#111" stroke-width="1.2"/>
<line x1="409.95" y1="700.06" x2="418.15" y2="700.06" stroke="#111" stroke-width="1.3"/>
<rect x="406.40" y="702.52" width="15.3" height="11.48" fill="#67a83f" stroke="#4a7e2a" stroke-width="0.4"/>
<text transform="translate(419.45,721.40) rotate(-45)" font-size="8.5" text-anchor="end" fill="#222" class="hv">GFP2</text>
<line x1="436.40" y1="702.52" x2="436.40" y2="706.62" stroke="#111" stroke-width="1.2"/>
<line x1="432.30" y1="702.52" x2="440.50" y2="702.52" stroke="#111" stroke-width="1.3"/>
<rect x="428.75" y="706.62" width="15.3" height="7.38" fill="#67a83f" stroke="#4a7e2a" stroke-width="0.4"/>
<text transform="translate(441.80,721.40) rotate(-45)" font-size="8.5" text-anchor="end" fill="#222" class="hv">GFP3</text>
<line x1="458.75" y1="710.17" x2="458.75" y2="712.09" stroke="#111" stroke-width="1.2"/>
<line x1="454.65" y1="710.17" x2="462.85" y2="710.17" stroke="#111" stroke-width="1.3"/>
<rect x="451.10" y="712.09" width="15.3" height="1.91" fill="#67a83f" stroke="#4a7e2a" stroke-width="0.4"/>
<text transform="translate(464.15,721.40) rotate(-45)" font-size="8.5" text-anchor="end" fill="#222" class="hv">GFP4</text>
<line x1="355.1" y1="714.0" x2="469.40000000000003" y2="714.0" stroke="#111" stroke-width="1.5" />
<line x1="358.3" y1="637.9" x2="358.3" y2="714.7" stroke="#111" stroke-width="1.6" />
<text x="351.90000000000003" y="717.2" font-size="9.0" text-anchor="end" font-weight="normal" fill="#222" class="hv">0</text>
<line x1="355.1" y1="695.775" x2="358.3" y2="695.775" stroke="#111" stroke-width="1.2" />
<text x="351.90000000000003" y="698.975" font-size="9.0" text-anchor="end" font-weight="normal" fill="#222" class="hv">20</text>
<line x1="355.1" y1="677.55" x2="358.3" y2="677.55" stroke="#111" stroke-width="1.2" />
<text x="351.90000000000003" y="680.75" font-size="9.0" text-anchor="end" font-weight="normal" fill="#222" class="hv">40</text>
<line x1="355.1" y1="659.325" x2="358.3" y2="659.325" stroke="#111" stroke-width="1.2" />
<text x="351.90000000000003" y="662.5250000000001" font-size="9.0" text-anchor="end" font-weight="normal" fill="#222" class="hv">60</text>
<line x1="355.1" y1="641.1" x2="358.3" y2="641.1" stroke="#111" stroke-width="1.2" />
<text x="351.90000000000003" y="644.3000000000001" font-size="9.0" text-anchor="end" font-weight="normal" fill="#222" class="hv">80</text>
<text transform="translate(337.30,676.55) rotate(-90)" font-size="9.1" text-anchor="middle" fill="#222">% of LSKCD48<tspan font-size="5.5" dy="-3.2">-</tspan><tspan dy="3.2"> cells</tspan></text>
<text x="478.6" y="683.0" font-size="8.15" text-anchor="start" font-weight="bold" fill="#111" >2 Weeks</text><rect x="0" y="0" width="1.5" height="745" fill="#000"/><rect x="0" y="0" width="520" height="1.5" fill="#000"/><rect x="518.4" y="0" width="1.6" height="745" fill="#000"/><rect x="0" y="743.5" width="520" height="1.5" fill="#000"/></svg></body></html>
